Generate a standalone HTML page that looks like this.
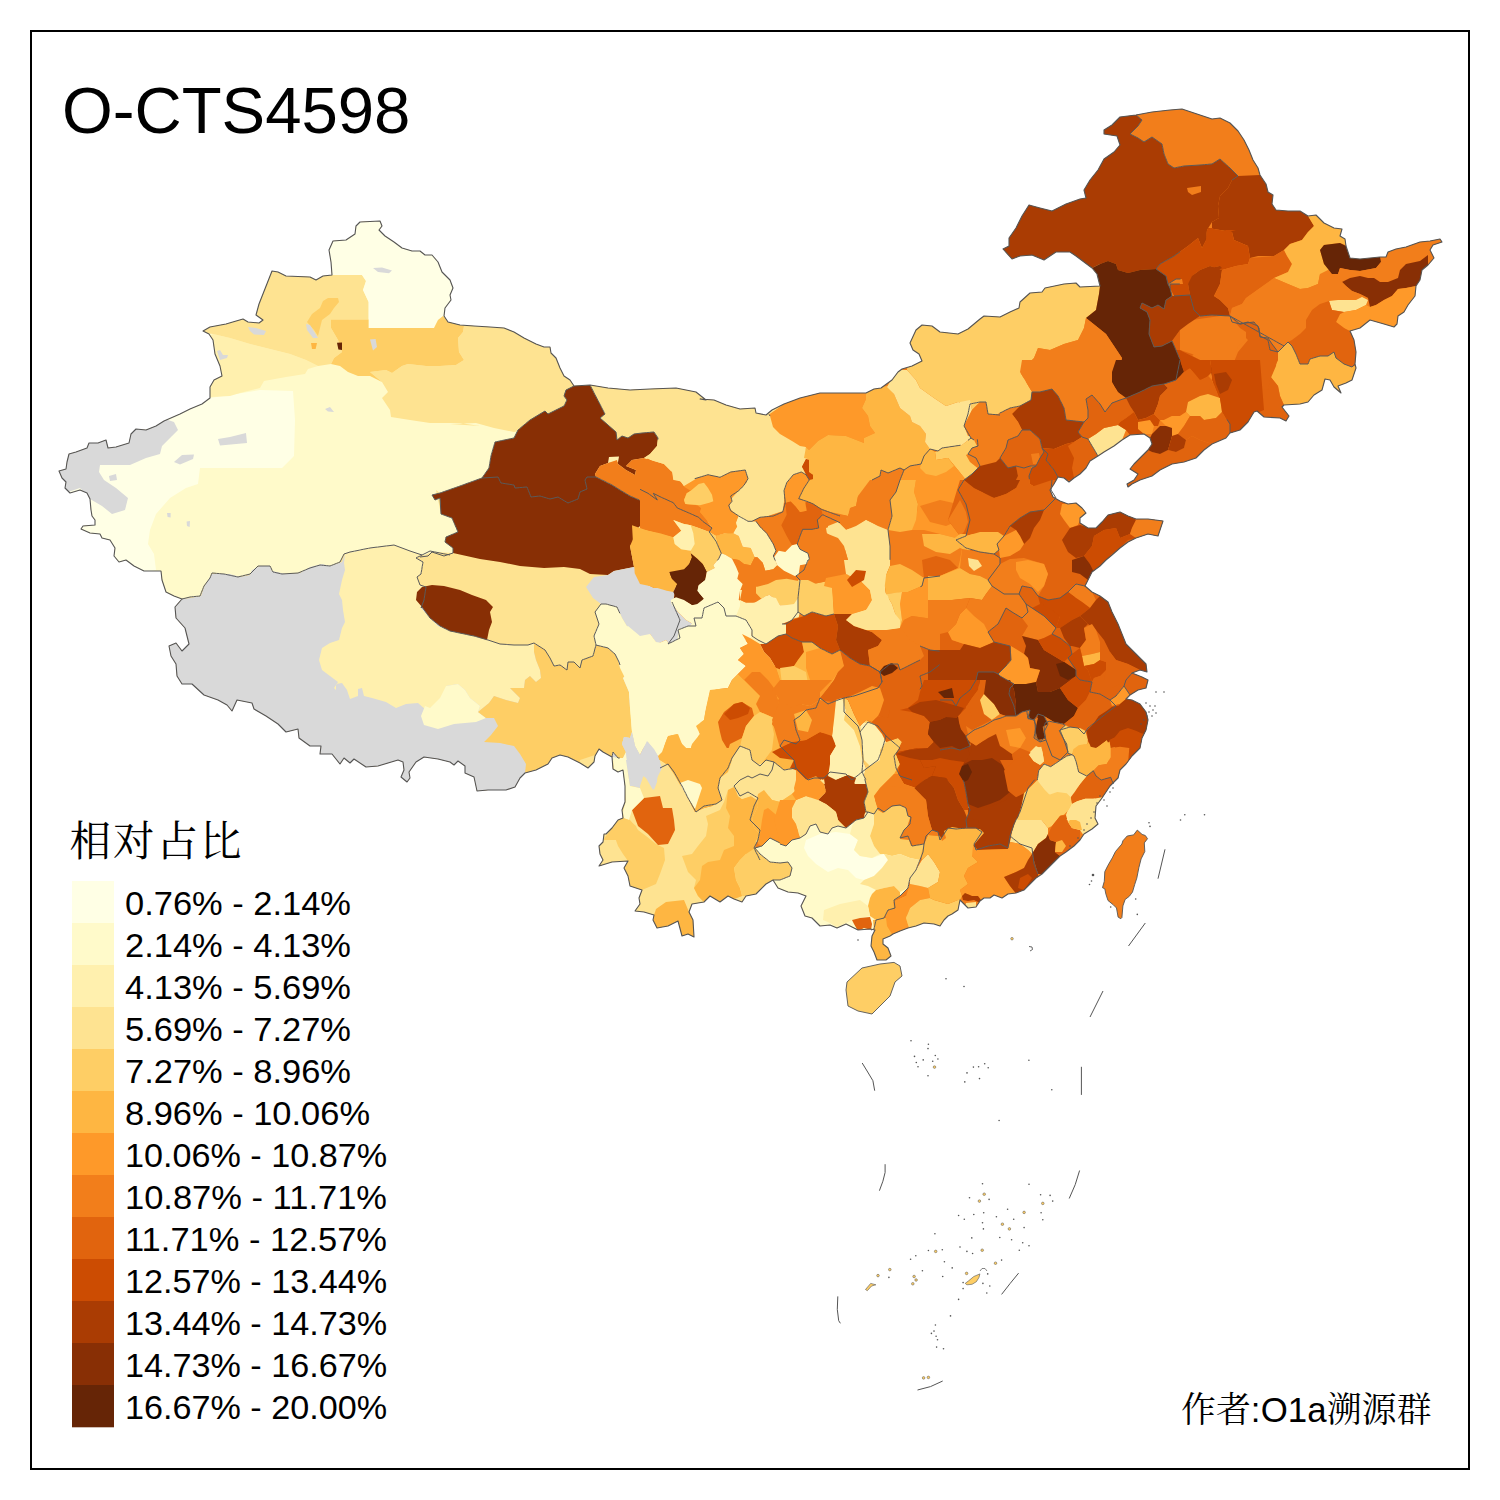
<!DOCTYPE html>
<html lang="zh"><head><meta charset="utf-8"><title>O-CTS4598</title>
<style>
html,body{margin:0;padding:0;background:#fff;}
body{width:1500px;height:1500px;overflow:hidden;position:relative;font-family:"Liberation Sans","Noto Sans CJK SC",sans-serif;}
svg{position:absolute;left:0;top:0;display:block;}
.t{font-family:"Liberation Sans",sans-serif;fill:#000;}
.s{font-family:"Liberation Serif","Noto Serif CJK SC",serif;fill:#000;}
</style></head><body>
<svg width="1500" height="1500" viewBox="0 0 1500 1500">
<rect x="0" y="0" width="1500" height="1500" fill="#fff"/>
<defs>
<clipPath id="cn"><polygon points="182,599 174,596 166,592 162,580 161,571 144,571 134,566 126,560 119,562 114,556 115,548 110,540 102,538 100,534 90,533 81,529 83,526 95,525 95,520 92,516 91,510 90,499 87,493 80,490 70,493 65,488 66,482 62,478 59,471 66,469 67,462 69,454 76,452 87,448 89,443 98,443 106,440 108,448 116,447 129,443 131,434 136,429 146,430 156,426 164,421 180,414 190,409 202,404 210,398 210,387 214,380 222,376 220,366 215,354 213,340 209,334 203,331 210,327 226,324 243,319 248,322 259,323 263,320 256,315 259,304 272,271 278,272 286,276 310,277 316,280 323,276 332,275 331,262 329,250 333,241 346,240 355,234 356,226 360,222 380,221 382,226 379,230 385,236 394,242 402,248 412,251 420,251 425,255 432,255 438,262 442,272 450,280 453,288 450,295 451,300 445,308 444,316 448,322 460,325 474,326 490,327 504,328 514,332 524,338 536,344 544,347 550,347 551,353 556,358 560,368 564,376 570,380 574,386 590,385 608,388 630,390 650,389 676,388 696,392 706,400 700,399 714,400 726,405 740,409 755,408 756,413 766,415 772,410 784,404 800,398 820,393 840,393 866,393 874,389 881,388 892,380 898,372 902,369 912,366 922,361 919,354 913,350 910,343 916,330 922,325 932,326 940,332 958,334 968,329 980,319 984,316 1000,317 1010,312 1019,308 1020,302 1030,293 1042,292 1045,288 1064,284 1076,283 1080,287 1100,286 1097,274 1092,268 1084,262 1076,256 1070,252 1056,252 1044,260 1032,255 1020,256 1012,259 1003,249 1009,246 1009,238 1016,228 1022,216 1029,205 1040,208 1052,211 1066,204 1080,199 1086,198 1084,190 1090,180 1098,170 1104,159 1114,152 1120,145 1117,136 1104,134 1104,130 1112,125 1120,117 1136,115 1152,112 1170,110 1182,109 1194,113 1212,119 1220,118 1230,123 1238,131 1244,140 1249,150 1253,160 1258,168 1260,175 1266,184 1268,192 1273,195 1272,204 1276,210 1288,211 1300,211 1308,216 1316,215 1324,223 1334,228 1342,229 1340,236 1345,239 1346,246 1350,258 1360,259 1370,258 1380,257 1386,257 1388,252 1396,249 1406,247 1420,242 1430,241 1440,239 1442,242 1433,245 1430,250 1434,258 1428,265 1422,270 1420,280 1416,286 1415,296 1408,305 1404,312 1398,316 1397,324 1394,327 1384,324 1370,320 1360,328 1350,331 1354,340 1356,352 1355,364 1356,368 1352,380 1346,383 1338,386 1341,393 1334,387 1330,380 1325,379 1322,390 1314,395 1308,402 1300,404 1284,405 1282,407 1289,416 1286,421 1280,418 1264,417 1257,411 1254,412 1248,422 1240,430 1230,433 1226,438 1212,444 1204,450 1196,458 1184,462 1172,464 1160,470 1152,476 1140,480 1132,484 1128,487 1127,484 1134,480 1138,474 1130,469 1134,464 1140,458 1148,450 1152,444 1150,438 1144,434 1130,435 1122,440 1114,446 1104,452 1098,456 1090,461 1086,468 1080,474 1074,478 1069,482 1064,478 1058,477 1054,484 1050,490 1053,497 1060,501 1068,504 1076,503 1082,508 1086,513 1080,518 1080,523 1088,528 1096,528 1102,522 1108,515 1120,512 1128,516 1136,519 1148,519 1163,521 1160,530 1158,536 1148,534 1136,538 1128,542 1120,548 1112,555 1106,560 1100,566 1092,572 1088,580 1085,586 1092,592 1100,596 1108,602 1112,612 1118,624 1122,634 1126,644 1136,654 1142,660 1146,664 1147,672 1140,670 1132,673 1142,677 1148,680 1146,688 1138,690 1130,695 1126,699 1132,700 1140,704 1146,712 1148,720 1146,730 1142,738 1140,748 1132,756 1126,764 1120,770 1118,778 1110,786 1106,792 1102,798 1096,806 1095,818 1098,824 1092,829 1084,834 1080,840 1074,846 1066,852 1060,856 1054,862 1048,868 1042,874 1036,878 1030,884 1024,890 1016,893 1008,894 1002,898 994,895 990,898 984,898 980,901 976,907 968,908 964,904 960,900 958,910 952,914 948,916 944,920 940,926 934,924 924,923 916,926 908,928 900,931 893,934 890,936 883,939 883,944 888,948 891,956 886,960 877,960 874,952 871,946 872,936 875,930 870,929 858,930 852,927 846,924 837,928 830,925 820,926 812,918 805,916 801,906 806,896 798,893 788,892 778,888 773,880 766,884 756,894 746,896 742,902 734,899 728,896 720,902 710,896 704,902 692,904 689,912 693,920 694,937 688,934 682,936 678,921 668,926 657,928 653,920 654,915 644,912 635,911 640,904 639,898 642,890 630,886 628,876 624,868 628,861 612,862 599,866 603,860 600,854 599,846 603,842 604,834 606,834 612,828 618,820 623,818 622,810 625,802 625,786 623,770 618,772 613,769 612,757 603,752 599,749 595,756 594,762 588,768 580,763 568,757 560,755 552,758 548,764 536,770 525,773 520,778 515,787 506,790 488,790 477,791 474,777 465,773 465,766 458,761 454,765 450,762 438,759 424,757 416,762 409,772 410,778 407,782 401,777 404,770 403,762 398,760 378,766 366,767 354,759 350,763 344,758 340,764 332,754 320,754 321,746 310,746 299,738 298,729 286,732 278,724 266,716 254,709 252,703 237,700 232,711 227,705 218,700 204,695 192,684 182,684 177,676 176,664 171,656 169,646 176,643 182,651 189,644 185,628 176,618 175,607"/></clipPath>
</defs>
<g clip-path="url(#cn)" stroke-linejoin="round">
<polygon points="0,0 1500,0 1500,1500 0,1500" fill="#F27E1B"/>
<polygon points="0,0 640,0 640,1500 0,1500" fill="#FEE391"/>
<polygon points="40,200 520,200 520,480 520,565 453,565 453,553 432,552 420,557 400,560 386,552 370,556 350,552 344,554 340,562 330,566 320,565 310,568 298,573 282,574 273,572 270,566 258,566 250,574 238,577 224,574 212,573 210,578 204,586 200,596 190,597 182,599 140,620 40,600" fill="#FFFACA"/>
<polygon points="190,409 210,398 230,395 260,390 293,391 295,420 294,456 282,468 200,468 198,484 186,488 170,498 156,514 150,530 148,544 154,554 156,570 130,576 70,550 50,490 110,430" fill="#FFFFE5"/>
<polygon points="174,422 178,430 172,436 162,446 160,454 146,458 130,465 100,465 99,472 104,480 116,488 128,498 125,510 112,514 102,506 90,499 80,488 62,494 50,470 70,440 130,426 162,418" fill="#D9D9D9"/>
<polygon points="213,334 230,338 250,344 270,349 290,354 306,360 318,366 331,364 318,366 308,369 305,374 286,377 264,381 260,388 240,393 230,396 211,397 202,400 206,376 202,340" fill="#FFF0AE"/>
<polygon points="198,332 213,334 230,338 250,344 270,349 290,354 306,360 318,366 331,364 334,358 342,352 338,340 331,328 331,319.4 368.6,319.4 368.6,302 363,290 366,281 362,275 332,275 310,268 270,266 250,312 202,324" fill="#FEE391"/>
<polygon points="332,275 362,275 366,281 363,290 368.6,302 368.6,328 434,328 438,320 444,316 458,300 458,240 370,212 326,236" fill="#FFFFE5"/>
<polygon points="464,326 463,332 458,338 459,352 464,360 456,365 440,366 426,366 408,364 402,366 392,373 386,370 370,372 382,382 388,392 382,398 390,410 391,417 410,420 430,423 460,423 480,426 450,424 476,423 494,428 514,432 532,428 560,412 580,388 584,380 560,340 480,320 450,320" fill="#FEE391"/>
<polygon points="331,319.4 368.6,319.4 368.6,328 434,328 438,320 443,316 448,322 464,326 463,332 458,338 459,352 464,360 456,365 440,366 426,366 408,364 402,366 392,373 386,370 370,372 382,382 370,376 358,376 348,372 340,366 331,364 334,358 342,352 338,340 331,328" fill="#FECE65"/>
<polygon points="328,298 338,298 339,302 334,308 330,314 322,320 320,328 318,336 314,330 307,322 312,314 320,308 323,301" fill="#FECE65"/>
<polygon points="311,343 317,343 315.6,349 312,349" fill="#FEB642"/>
<polygon points="337,342.8 342,342.4 342,350 338.4,349.6" fill="#662506"/>
<polygon points="306,324 310,325 318,338 313,338 307,330" fill="#D9D9D9"/>
<polygon points="373,268 382,267.6 392,270.4 389,273.2 378,272" fill="#D9D9D9"/>
<polygon points="248,327 256,328 266,331 264,335 254,334.4 250,331" fill="#D9D9D9"/>
<polygon points="217,351 220,350 223,355 228,355 227,358 220,360" fill="#D9D9D9"/>
<polygon points="370,339.4 375.6,339 377,347 373,350.4" fill="#D9D9D9"/>
<polygon points="218,439 230,437 246,433 247,443 220,445.6" fill="#D9D9D9"/>
<polygon points="325,409 330,407 334,412 328,411.6" fill="#D9D9D9"/>
<polygon points="174,462 182,455 194,454.4 193,459 180,464.4" fill="#D9D9D9"/>
<polygon points="109,476 116,474 117,480 110,481" fill="#D9D9D9"/>
<polygon points="167,513 170.6,513 170.6,517.6 167.6,517" fill="#D9D9D9"/>
<polygon points="186.6,521.6 190,521 189.6,527 187,526" fill="#D9D9D9"/>
<polygon points="182,599 190,598 201,596 204,587 212,574 230,574 240,577 250,575 252,570 260,566 270,566 272,571 286,574 300,573 310,567 322,564 330,566 342,562 345,554 370,548 394,545 410,551 422,555 450,560 630,640 630,820 150,820 150,600" fill="#D9D9D9"/>
<polygon points="344,563 345,554 370,548 394,545 410,551 422,555 416,558 423,562 421,574 417,577 420,585 426,587 424,600 421,608 430,618 438,626 450,631 450,631 474,636 488,640 500,644 514,645 528,645 534,643 534,652 536,660 540,670 541,678 536,682 530,676 525,680 524,688 510,688 520,698 518,703 506,700 494,696 489,703 478,712 480,706 470,698 465,690 458,684 446,686 450,686 444,692 442,700 434,706 426,710 418,703 406,704 396,708 386,702 372,698 364,696 362,688 358,689 358,696 350,699 347,690 342,683 336,684 336,690 334,688 338,682 330,676 322,670 319,660 322,648 330,643 339,640 342,628 345,622 343,610 342,600 339,594 342,580 345,570" fill="#FFF0AE"/>
<polygon points="446,686 458,684 465,690 470,698 480,706 478,712 486,718 476,722 454,724 438,729 424,725 421,716 425,706 430,708 440,698" fill="#FFFACA"/>
<polygon points="534,643 545,650 550,658 554,666 560,665 567,670 568,662 574,662 580,668 582,660 593,656 596,645 608,648 615,654 619,662 621,668 627,674 623,678 629,692 630,708 632,732 630,738 624,737 622,744 626,752 623,758 618,758 613,752 612,757 603,752 599,749 595,756 594,762 588,768 580,763 568,757 560,755 552,758 548,764 536,770 525,773 526,764 520,754 514,746 500,743 484,742 491,735 498,726 494,718 486,718 478,712 489,703 494,696 506,700 518,703 520,698 510,688 524,688 525,680 530,676 536,682 541,678 540,670 536,660 534,652" fill="#FECE65"/>
<polygon points="436,490 441,514 452,518 458,532 446,537 445,542 453,548 453,553 444,556 432,552 428,556 422,555 416,558 423,562 421,574 417,577 420,585 426,587 424,600 421,608 422,607 430,618 440,626 450,631 474,636 488,640 500,644 514,645 528,645 534,643 545,650 550,658 554,666 560,665 567,670 568,662 574,662 580,668 582,660 593,656 596,645 594,636 599,624 595,612 601,604 593,598 586,587 594,577 590,574 580,560 500,540" fill="#FEE391"/>
<polygon points="560,360 720,390 780,400 800,420 810,470 790,520 740,530 700,540 660,500 640,470 600,440 580,420" fill="#FEE391"/>
<polygon points="574,386 566,390 564,396 567,400 564,406 548,414 545,411 530,420 518,430 514,438 495,442 491,456 489,468 482,478 460,486 440,493 432,495 435,500 440,498 441,514 452,518 458,532 446,537 445,542 453,548 453,553 462,555 480,559 500,562 520,566 544,568 564,567 580,569 590,574 608,575 614,571 634,567 630,546 637,540 636,530 640,526 645,514 640,508 644,502 630,496 620,490 612,485 600,479 596,477 595,474 600,466 608,463 617,460 618,464 626,470 635,475 636,470 626,466 632,460 644,458 650,454 657,446 658,438 654,432 642,433 634,434 628,438 622,436 617,440 616,432 600,418 605,414 590,385" fill="#882F05"/>
<polygon points="422,587 432,585 444,586 460,590 472,595 486,600 493,607 490,612 492,622 489,630 487,640 474,636 450,631 440,626 430,618 422,607 416,600 417,592" fill="#882F05"/>
<polygon points="586,587 594,577 608,575 614,571 634,567 637,568 636,574 642,582 654,588 676,586 674,598 671,602 678,612 686,620 693,624 688,628 680,628 678,642 670,645 666,640 657,644 650,634 648,640 640,638 628,628 622,618 617,607 606,604 601,604 593,598" fill="#D9D9D9"/>
<polygon points="637,530 648,530 660,534 674,537 680,546 692,552 690,560 686,570 670,573 669,580 676,586 654,588 642,582 637,568 634,567 630,546" fill="#FEB642"/>
<polygon points="690,553 700,562 708,570 704,578 698,586 699,594 704,600 696,606 686,602 674,598 676,586 669,580 670,573 686,570 690,560" fill="#662506"/>
<polygon points="671,602 674,598 686,602 696,606 704,600 699,594 698,586 704,578 720,582 728,580 732,592 720,602 704,610 710,620 704,626 694,626 696,620 688,628 693,624 686,620 678,612" fill="#FFFACA"/>
<polygon points="609,457 619,456.6 618,462 608,463" fill="#FFF0AE"/>
<polygon points="596,477 595,474 600,466 608,463 617,460 618,464 626,470 635,475 636,470 626,466 632,460 644,458 664,464 672,472 673,480 681,482 686,489 688,494 684,502 700,508 704,520 710,530 680,520 682,534 674,537 660,534 648,530 640,526 645,514 640,508 644,502 630,496 620,490 612,485 600,479" fill="#F27E1B"/>
<polygon points="560,370 700,370 769,414.4 770,416 773,427 780,434 792,441 800,446 806,447 804,458 808,459 809,476 812,478 802,472 794,476 788,484 784,492 783,511 768,516 752,521 748,521 738,516 729,508 732,498 741,488 747,482 745,470 730,472 720,478 710,475 700,477 688,494 686,489 681,482 673,480 672,472 664,464 644,458 650,454 657,446 658,438 654,432 620,428 605,414 590,385 580,376" fill="#FEE391"/>
<polygon points="769,414.4 784,404 800,398 820,390 866,390 866,399 862,408 868,416 870,426 875,433 864,438 864,443 846,436 828,435 818,441 809,450 806,447 800,446 792,441 780,434 773,427 770,416" fill="#FE9929"/>
<polygon points="866,390 887,386 894,394 900,408 910,416 912,422 920,426 926,434 925,442 930,449 924,456 921,464 910,466 904,470 900,468 888,473 881,470 880,476 872,480 864,492 856,498 855,504 851,507 849,514 838,516 828,512 820,508 812,503 804,501 799,498 804,488 809,480 809,476 808,459 804,458 806,447 809,450 818,441 828,435 846,436 864,443 864,438 875,433 870,426 868,416 862,408 866,399" fill="#FEB642"/>
<polygon points="806,459 809,460 809,472 813,475 813,479 809,479 806,470 802,467" fill="#CC4C02"/>
<polygon points="887,387 892,378 898,370 907,370 916,380 920,388 934,398 946,406 958,402 970,404 968,414 964,426 971,438 962,445 942,448 938,451 930,449 925,442 926,434 920,426 912,422 910,416 900,408 894,394" fill="#FEE391"/>
<polygon points="907,370 908,362 900,310 1000,310 1020,370 1000,410 988,410 986,402 980,402 970,404 958,402 946,406 934,398 920,388 916,380" fill="#FECE65"/>
<polygon points="980,402 986,402 988,414 1000,415 1020,430 1020,462 988,465 980,470 970,462 966,455 978,448 974,440 971,438 964,426 968,414 970,404" fill="#F27E1B"/>
<polygon points="971,438 974,440 978,448 966,455 970,462 980,470 976,476 966,480 958,470 948,458 936,460 935,452 938,451 942,448 962,445" fill="#FECE65"/>
<polygon points="930,449 935,452 936,460 948,458 958,470 966,480 962,483 958,494 962,506 968,518 964,530 956,540 960,550 888,550 887,532 892,522 893,510 889,502 895,494 900,480 904,470 910,466 921,464 924,456" fill="#FE9929"/>
<polygon points="921,464 924,456 930,449 935,452 936,460 948,458 954,466 946,472 936,476 926,474 920,468" fill="#FEB642"/>
<polygon points="912,504 920,498 936,496 946,500 958,494 962,506 960,516 948,520 936,518 924,516 916,512" fill="#F27E1B"/>
<polygon points="892,522 900,508 910,504 916,512 924,516 928,526 920,534 908,538 888,538 887,532" fill="#FEB642"/>
<polygon points="904,470 900,480 895,494 889,502 893,510 892,522 887,532 888,550 838,550 828,540 818,532 817,524 820,514 828,512 838,516 849,514 851,507 855,504 856,498 864,492 872,480 880,476 881,470 888,473 900,468" fill="#F27E1B"/>
<polygon points="826,528 840,523 852,530 866,520 874,524 882,530 887,534 888,550 838,550 828,540" fill="#FEE391"/>
<polygon points="794,476 802,472 809,479 804,488 799,498 804,501 806,514 798,516 794,508 784,502 784,492 788,484" fill="#FE9929"/>
<polygon points="784,502 794,508 798,516 806,514 804,501 812,503 820,508 824,512 818,516 816,528 802,530 798,540 794,542 786,534 780,526 786,516 783,511" fill="#E1640E"/>
<polygon points="783,511 786,516 780,526 786,534 794,542 798,550 776,550 768,536 758,528 756,523 752,521 768,516" fill="#F27E1B"/>
<polygon points="700,477 710,475 720,478 730,472 745,470 747,482 741,488 732,498 729,508 738,516 736,526 733,534 720,530 712,524 700,518 688,506 680,496 684,486 694,480" fill="#FE9929"/>
<polygon points="800,498 810,480 870,480 858,496 856,506 850,508 848,516 840,514 830,512 820,508 810,502" fill="#FEB642"/>
<polygon points="870,480 900,480 896,492 890,500 892,516 888,530 878,526 866,520 856,526 846,530 838,522 828,526 820,518 820,508 830,512 840,514 848,516 850,508 856,506 858,496" fill="#F27E1B"/>
<polygon points="828,526 838,522 846,530 856,526 866,520 878,526 888,530 890,546 890,566 884,580 886,594 892,604 896,616 900,628 884,630 868,628 858,624 848,622 854,614 870,608 872,600 864,592 854,594 844,584 848,574 848,560 844,546 838,538 828,534" fill="#FEE391"/>
<polygon points="802,530 818,528 828,534 838,538 844,546 848,560 848,574 844,584 828,576 826,584 812,584 800,582 798,574 800,564 809,560 808,554 800,550 796,546 798,540" fill="#F27E1B"/>
<polygon points="847,580 856,570 866,571 864,580 852,587" fill="#CC4C02"/>
<polygon points="890,500 896,492 900,480 916,480 914,492 918,504 916,520 912,530 900,532 888,530 892,516" fill="#FEB642"/>
<polygon points="916,480 960,480 958,494 966,504 968,520 962,532 956,538 940,534 924,530 912,530 916,520 918,504 914,492" fill="#FE9929"/>
<polygon points="920,506 940,500 958,504 960,520 946,526 930,522" fill="#F27E1B"/>
<polygon points="888,530 900,532 912,530 924,530 940,534 956,538 962,548 960,560 958,568 940,576 924,578 922,586 908,592 886,594 884,580 890,566 890,546" fill="#F27E1B"/>
<polygon points="922,534 940,534 956,538 960,548 950,554 936,552 924,546" fill="#FEB642"/>
<polygon points="922,560 936,556 950,560 958,568 940,576 924,578" fill="#E1640E"/>
<polygon points="884,580 890,566 900,564 912,570 924,578 922,586 908,592 886,594" fill="#FEB642"/>
<polygon points="962,532 980,530 1000,536 1012,540 1012,576 988,580 980,576 968,574 958,568 960,560 962,548 956,538" fill="#FE9929"/>
<polygon points="956,538 962,532 980,530 1000,536 1000,548 980,550 962,548" fill="#FECE65"/>
<polygon points="968,558 976,556 980,564 972,568" fill="#FEE391"/>
<polygon points="902,592 908,592 922,586 924,578 940,576 958,568 968,574 980,576 988,580 1000,576 1000,620 996,632 988,630 980,640 962,646 958,632 950,624 940,620 926,618 912,616 904,620 900,628 902,620 900,604" fill="#FE9929"/>
<polygon points="886,594 902,592 900,604 902,620 900,628 896,616 892,604" fill="#FECE65"/>
<polygon points="900,628 904,620 912,616 926,618 940,620 950,624 958,632 962,646 958,650 946,652 930,650 920,646 910,640 904,632" fill="#F27E1B"/>
<polygon points="920,646 930,650 946,652 944,660 938,666 930,672 920,676 912,672 904,660 912,654" fill="#E1640E"/>
<polygon points="946,652 958,650 962,646 980,640 988,630 1000,632 1000,716 992,720 980,716 970,692 980,684 976,672 964,664 960,654" fill="#AA3C03"/>
<polygon points="978,672 1000,668 1000,700 988,696 980,684" fill="#882F05"/>
<polygon points="912,704 920,708 930,706 944,706 956,710 968,706 956,716 946,722 936,716 928,716 930,726 934,736 928,744 912,750 902,746 900,738 890,738 880,730 874,718 886,716 890,710 900,708" fill="#CC4C02"/>
<polygon points="920,676 930,672 938,666 944,660 946,652 960,654 964,664 976,672 980,684 970,692 968,706 956,710 944,706 930,706 920,708 912,704 916,696 922,686" fill="#AA3C03"/>
<polygon points="938,692 946,690 954,688 954,698 944,698" fill="#662506"/>
<polygon points="928,716 936,716 946,722 956,716 960,724 962,736 970,744 966,748 952,748 940,746 936,738 930,726" fill="#882F05"/>
<polygon points="1000,317 1000,240 1100,240 1100,286 1099,294 1096,310 1086,318 1084,328 1078,340 1064,344 1050,350 1038,348 1034,358 1026,366 1020,374 1026,380 1028,394 1032,400 1000,400 940,400 940,300" fill="#FECE65"/>
<polygon points="1000,200 1100,120 1140,110 1142,120 1138,126 1130,134 1138,138 1144,142 1152,137 1162,144 1164,154 1168,164 1174,168 1184,166 1200,165 1212,164 1220,159 1230,168 1238,176 1232,180 1228,188 1220,196 1218,206 1219,218 1212,222 1207,230 1206,240 1202,248 1198,238 1188,246 1174,256 1160,264 1156,269 1140,270 1128,273 1118,270 1116,264 1108,261 1100,264 1092,268 1060,264 1000,264" fill="#AA3C03"/>
<polygon points="1136,115 1140,100 1260,100 1260,175 1238,176 1230,168 1220,159 1212,164 1200,165 1184,166 1174,168 1168,164 1164,154 1162,144 1152,137 1144,142 1138,138 1130,134 1138,126 1142,120" fill="#F27E1B"/>
<polygon points="1187,188 1201,186 1201,192 1192,195 1188,192" fill="#F27E1B"/>
<polygon points="1238,176 1260,175 1266,184 1266,180 1268,192 1273,195 1272,204 1276,210 1288,211 1300,211 1308,216 1314,226 1308,232 1302,240 1290,244 1284,250 1274,256 1258,256 1250,258 1248,246 1234,240 1232,232 1220,230 1208,228 1206,238 1202,248 1212,228 1212,222 1219,218 1218,206 1220,196 1228,188 1232,180" fill="#AA3C03"/>
<polygon points="1156,269 1160,264 1174,256 1188,246 1198,238 1202,248 1206,240 1207,230 1212,228 1219,234 1226,230 1236,230 1206,238 1208,228 1220,230 1232,232 1234,240 1248,246 1250,258 1248,264 1236,266 1222,270 1210,266 1200,270 1192,276 1188,284 1220,266 1202,270 1192,276 1188,284 1190,295 1174,296 1170,288 1170,284 1183,284 1182,279 1176,279 1168,284 1166,276" fill="#CC4C02"/>
<polygon points="1188,284 1192,276 1202,270 1220,266 1222,268 1188,284 1192,276 1200,270 1210,266 1222,270 1220,284 1214,296 1220,300 1228,308 1230,316 1220,316 1206,318 1196,314 1190,300 1212,315 1200,316 1194,310 1190,295" fill="#AA3C03"/>
<polygon points="1222,270 1236,266 1248,264 1250,258 1274,256 1284,250 1292,264 1288,272 1274,278 1260,288 1246,298 1242,304 1232,308 1230,316 1228,308 1220,300 1214,296 1220,284" fill="#E1640E"/>
<polygon points="1308,216 1316,215 1324,223 1334,228 1342,229 1346,236 1348,246 1340,243 1324,245 1320,250 1324,264 1332,268 1320,274 1318,284 1308,288 1300,289 1288,284 1274,278 1288,272 1292,264 1287,256 1284,250 1290,244 1302,240 1308,232 1314,226" fill="#FEB642"/>
<polygon points="1320,250 1324,245 1340,243 1346,246 1350,258 1360,259 1370,258 1380,257 1381,262 1376,268 1360,271 1350,270 1340,268 1338,274 1332,274 1324,264" fill="#662506"/>
<polygon points="1381,262 1386,257 1388,248 1396,245 1406,243 1420,238 1444,236 1444,244 1436,258 1428,265 1428,255 1420,261 1406,264 1400,270 1398,278 1388,282 1380,282 1374,278 1368,278 1360,276 1350,278 1342,282 1332,274 1338,274 1340,268 1350,270 1360,271 1376,268" fill="#F27E1B"/>
<polygon points="1342,282 1350,278 1360,276 1368,278 1374,278 1380,282 1388,282 1398,278 1400,270 1406,264 1420,261 1428,255 1428,265 1422,270 1420,280 1416,286 1406,288 1398,289 1392,296 1384,300 1376,305 1370,307 1368,298 1360,294 1352,291 1346,286" fill="#882F05"/>
<polygon points="1230,316 1232,308 1242,304 1246,298 1260,288 1274,278 1288,284 1300,289 1308,288 1318,284 1320,274 1332,274 1342,282 1346,286 1352,291 1360,294 1368,298 1362,297 1356,300 1338,300 1329,301 1320,304 1312,310 1306,320 1306,328 1300,334 1292,340 1288,342 1284,346 1278,352 1272,344 1268,338 1260,337 1259,328 1254,322 1246,323 1240,324" fill="#F27E1B"/>
<polygon points="1329,301 1338,300 1356,300 1362,297 1368,300 1366,305 1356,310 1344,312 1332,310" fill="#FEE391"/>
<polygon points="1336,322 1340,314 1344,312 1356,310 1366,305 1370,307 1376,305 1384,300 1392,296 1398,289 1406,288 1416,286 1420,292 1412,308 1404,316 1400,328 1384,328 1370,324 1360,332 1350,334 1344,328" fill="#FE9929"/>
<polygon points="1288,342 1292,340 1300,334 1306,328 1306,320 1312,310 1320,304 1329,301 1332,310 1344,312 1340,314 1336,322 1344,328 1350,331 1360,340 1360,364 1352,367 1344,364 1336,358 1334,352 1328,356 1320,356 1310,359 1308,364 1300,364 1296,354 1292,346" fill="#E1640E"/>
<polygon points="1278,352 1284,346 1288,342 1292,346 1296,354 1300,364 1308,364 1310,359 1320,356 1328,356 1334,352 1336,358 1344,364 1352,367 1360,364 1360,400 1300,410 1284,405 1280,396 1278,386 1270,376 1274,368 1278,360" fill="#FEB642"/>
<polygon points="1230,316 1240,324 1246,323 1254,322 1259,328 1260,337 1268,338 1272,344 1278,352 1278,360 1274,368 1270,376 1278,386 1280,396 1284,405 1282,407 1292,418 1286,424 1264,420 1257,414 1250,418 1240,430 1230,434 1222,406 1216,390 1212,378 1220,366 1234,360 1238,346 1246,340 1246,332 1240,328" fill="#E1640E"/>
<polygon points="1212,378 1220,370 1230,372 1234,380 1248,388 1250,400 1246,410 1250,418 1240,430 1230,434 1226,420 1222,406 1216,390" fill="#CC4C02"/>
<polygon points="1216,378 1226,374 1230,382 1226,390 1218,388" fill="#AA3C03"/>
<polygon points="1212,315 1230,316 1232,322 1240,324 1248,322 1258,326 1260,336 1268,340 1270,350 1278,352 1276,366 1270,380 1268,390 1250,388 1240,392 1232,380 1226,370 1220,362 1210,368 1200,360 1192,356 1180,350 1176,350 1172,341 1180,330 1188,324 1200,316" fill="#E1640E"/>
<polygon points="1204,346 1208,336 1220,330 1236,328 1248,340 1238,352 1234,362 1220,362 1210,368 1200,360 1192,356" fill="#F27E1B"/>
<polygon points="1180,324 1192,320 1206,318 1220,316 1230,316 1240,328 1246,332 1246,340 1238,346 1234,360 1220,366 1210,364 1200,358 1192,354 1180,350" fill="#F27E1B"/>
<polygon points="1092,268 1100,264 1108,261 1116,264 1118,270 1128,273 1140,270 1156,269 1166,276 1168,284 1170,288 1172,296 1166,300 1164,309 1158,305 1152,308 1142,303 1140,308 1147,312 1150,320 1149,334 1154,347 1162,346 1172,341 1176,350 1181,362 1178,366 1184,370 1180,378 1170,384 1156,384 1144,390 1128,396 1120,394 1114,386 1111,376 1120,366 1122,358 1114,346 1106,334 1096,326 1086,318 1096,310 1099,294 1100,286 1097,274" fill="#662506"/>
<polygon points="1140,308 1142,303 1152,308 1158,305 1164,309 1166,300 1172,296 1174,296 1190,295 1194,310 1200,316 1188,324 1180,330 1172,341 1162,346 1154,347 1149,334 1150,320 1147,312" fill="#AA3C03"/>
<polygon points="1181,362 1176,350 1180,350 1192,356 1200,360 1210,368 1208,376 1202,382 1200,376 1188,368 1184,370 1178,366" fill="#CC4C02"/>
<polygon points="1210,368 1220,362 1226,370 1232,380 1228,388 1220,390 1214,384" fill="#AA3C03"/>
<polygon points="1086,318 1096,326 1106,334 1114,346 1122,358 1120,366 1111,376 1114,386 1120,394 1128,396 1144,390 1156,384 1170,384 1180,378 1176,384 1180,400 1180,420 1032,420 1032,400 1028,394 1026,380 1020,374 1026,366 1034,358 1038,348 1050,350 1064,344 1078,340 1084,328" fill="#F27E1B"/>
<polygon points="1180,378 1184,370 1188,368 1200,376 1202,382 1208,376 1214,384 1220,400 1220,412 1180,412 1176,384" fill="#E1640E"/>
<polygon points="960,360 1022,360 1020,372 1026,382 1032,392 1031,400 1020,406 1010,408 998,414 988,414 986,402 980,402 972,410 970,400 960,402" fill="#FECE65"/>
<polygon points="960,402 970,400 972,410 968,418 964,426 970,436 960,444" fill="#FEE391"/>
<polygon points="1022,360 1116,360 1112,372 1112,382 1118,392 1126,398 1120,400 1112,403 1105,412 1100,404 1092,395 1086,399 1088,410 1088,418 1084,422 1066,420 1064,408 1058,396 1052,389 1040,392 1032,392 1026,382 1020,372" fill="#F27E1B"/>
<polygon points="1116,360 1180,360 1184,372 1176,380 1164,384 1152,386 1140,392 1126,398 1118,392 1112,382 1112,372" fill="#662506"/>
<polygon points="1032,392 1040,392 1052,389 1058,396 1064,408 1066,420 1084,422 1078,432 1082,437 1074,442 1066,444 1054,449 1042,448 1040,439 1030,430 1022,430 1018,422 1012,414 1020,406 1031,400" fill="#AA3C03"/>
<polygon points="964,426 968,418 972,410 980,402 986,402 988,414 998,414 1010,408 1012,414 1018,422 1022,430 1018,436 1008,440 1006,448 1000,458 996,462 988,464 980,466 976,458 968,454 972,448 978,446 977,436 968,436" fill="#F27E1B"/>
<polygon points="1008,440 1018,436 1022,430 1030,430 1040,439 1042,448 1044,452 1040,458 1036,466 1030,466 1024,468 1016,466 1008,468 1000,458 1006,448" fill="#E1640E"/>
<polygon points="1031,454 1039,453 1040,458 1038,464 1033,464" fill="#F27E1B"/>
<polygon points="1042,448 1048,454 1046,460 1054,470 1058,477 1054,484 1050,490 1040,490 1030,484 1029,476 1032,468 1036,466 1040,458 1044,452" fill="#CC4C02"/>
<polygon points="1042,448 1054,449 1066,444 1074,442 1080,446 1078,456 1084,464 1086,468 1080,474 1074,478 1069,482 1064,478 1058,477 1054,470 1046,460 1048,454" fill="#CC4C02"/>
<polygon points="1068,446 1074,442 1082,437 1088,439 1098,456 1090,461 1086,468 1080,474 1074,478 1072,468 1074,458" fill="#E1640E"/>
<polygon points="1088,439 1096,434 1104,428 1118,425 1126,430 1122,440 1114,446 1104,452 1098,456" fill="#FEE391"/>
<polygon points="1078,432 1084,422 1088,418 1088,410 1086,399 1092,395 1100,404 1105,412 1112,403 1120,400 1126,398 1130,406 1134,412 1126,418 1120,422 1118,425 1104,428 1096,434 1088,439 1082,437" fill="#E1640E"/>
<polygon points="1126,398 1140,392 1152,386 1164,384 1168,388 1160,396 1158,404 1154,414 1146,418 1138,420 1134,412 1130,406" fill="#AA3C03"/>
<polygon points="1120,422 1126,418 1134,412 1138,420 1146,418 1154,414 1160,420 1158,426 1152,426 1144,434 1130,435 1126,430 1118,425" fill="#CC4C02"/>
<polygon points="1138,422 1150,420 1154,426 1152,434 1144,434 1138,429" fill="#FE9929"/>
<polygon points="1164,384 1176,380 1184,372 1190,368 1200,380 1208,376 1212,380 1208,394 1200,396 1188,402 1186,412 1180,416 1172,416 1164,420 1160,420 1154,414 1158,404 1160,396 1168,388" fill="#E1640E"/>
<polygon points="1180,360 1210,360 1212,372 1208,376 1200,380 1190,368 1184,372" fill="#CC4C02"/>
<polygon points="1186,412 1188,402 1200,396 1208,394 1220,398 1222,412 1216,418 1204,420 1200,416 1190,416" fill="#FEB642"/>
<polygon points="1160,420 1164,420 1172,416 1180,416 1186,412 1190,416 1184,426 1178,434 1172,436 1172,428 1166,426" fill="#FE9929"/>
<polygon points="1148,450 1152,452 1160,454 1168,450 1176,452 1184,448 1186,440 1192,436 1200,440 1212,444 1204,452 1196,460 1184,464 1172,466 1160,472 1152,478 1140,482 1128,489 1124,484 1134,480 1136,474 1128,469 1134,464 1140,458" fill="#E1640E"/>
<polygon points="1178,434 1184,426 1190,416 1200,416 1204,420 1216,418 1222,412 1230,424 1230,433 1226,438 1212,444 1200,440 1192,436 1186,440" fill="#E1640E"/>
<polygon points="1150,438 1152,434 1160,426 1166,426 1172,428 1172,436 1168,450 1160,454 1152,452 1148,450 1152,444" fill="#882F05"/>
<polygon points="1172,436 1178,434 1186,440 1184,448 1176,452 1168,450" fill="#AA3C03"/>
<polygon points="1210,360 1260,360 1264,410 1254,414 1248,422 1240,430 1230,433 1230,424 1222,412 1220,398 1212,380 1212,372" fill="#CC4C02"/>
<polygon points="1214,374 1226,372 1232,380 1228,390 1220,394 1216,384" fill="#AA3C03"/>
<polygon points="960,480 964,480 972,488 982,492 990,498 1000,496 1010,490 1014,484 1018,476 1016,466 1024,468 1030,466 1032,468 1029,476 1030,484 1040,490 1050,490 1053,497 1060,501 1054,504 1048,508 1040,512 1030,514 1020,518 1012,524 1008,532 1000,534 980,534 966,536 960,536 948,520" fill="#E1640E"/>
<polygon points="964,480 972,474 980,466 988,464 996,462 1000,458 1008,468 1016,466 1018,476 1014,484 1010,490 1000,496 990,498 982,492 972,488" fill="#AA3C03"/>
<polygon points="960,500 966,512 968,522 964,532 960,536 948,520" fill="#F27E1B"/>
<polygon points="1008,532 1040,512 1060,501 1080,523 1100,552 1096,560 1088,580 1085,586 1092,592 1088,598 1080,606 1072,612 1064,616 1058,618 1020,593 986,580 992,572 1000,566 1010,558 1000,556 996,548 998,540" fill="#E1640E"/>
<polygon points="1008,532 1012,524 1020,518 1030,514 1040,512 1048,508 1046,516 1040,520 1036,528 1034,536 1028,540 1022,544 1020,538 1014,534" fill="#AA3C03"/>
<polygon points="1040,512 1048,508 1054,504 1060,501 1062,508 1060,518 1062,528 1070,532 1066,538 1062,544 1066,552 1060,562 1054,556 1048,550 1040,552 1034,548 1028,540 1034,536 1036,528 1040,520 1046,516" fill="#CC4C02"/>
<polygon points="1060,501 1068,504 1076,503 1082,508 1086,513 1080,518 1080,523 1072,526 1070,532 1062,528 1060,518 1062,508" fill="#FE9929"/>
<polygon points="1062,538 1070,532 1072,526 1080,523 1088,528 1092,532 1092,540 1098,548 1100,552 1096,560 1088,560 1080,556 1074,558 1066,552 1062,544" fill="#AA3C03"/>
<polygon points="1088,528 1096,528 1102,522 1108,515 1120,512 1128,516 1136,519 1142,522 1134,528 1130,532 1134,536 1128,542 1120,548 1112,555 1106,560 1100,566 1096,560 1100,552 1098,548 1092,540 1092,532" fill="#CC4C02"/>
<polygon points="1108,515 1120,512 1128,516 1136,519 1142,522 1134,528 1130,532 1120,530 1114,526 1108,528 1100,528 1102,522" fill="#AA3C03"/>
<polygon points="1130,532 1134,528 1142,522 1148,519 1164,520 1162,530 1158,537 1148,535 1136,539 1134,536" fill="#F27E1B"/>
<polygon points="1072,568 1076,558 1080,556 1088,560 1096,560 1100,566 1092,572 1088,580 1082,578" fill="#882F05"/>
<polygon points="960,534 980,534 1000,534 998,540 996,548 1000,556 990,558 976,554 960,548 952,540" fill="#FEB642"/>
<polygon points="998,540 1008,532 1014,534 1020,538 1022,544 1020,552 1010,558 1000,556 996,548" fill="#FE9929"/>
<polygon points="1010,558 1020,552 1030,560 1040,564 1048,570 1048,580 1040,586 1042,592 1036,594 1030,588 1022,586 1016,578 1012,568" fill="#FE9929"/>
<polygon points="986,580 992,572 1000,566 1010,558 1012,568 1016,578 1022,586 1020,593 1002,594 998,588" fill="#F27E1B"/>
<polygon points="1022,586 1030,588 1036,594 1042,600 1050,604 1058,618 1052,610 1044,606 1036,604 1030,598 1026,594 1020,593" fill="#CC4C02"/>
<polygon points="1068,596 1076,584 1085,586 1092,592 1088,598 1080,606 1072,602" fill="#F27E1B"/>
<polygon points="640,460 648,458.7 660,465.3 672,472 673.3,480 680,481.3 684,486.7 690.7,490.7 686.7,493.3 684,500 685.3,504 697.3,505.3 701.3,508 700,512 706.7,520 712,528 709.3,532 698.7,528 690.7,525.3 684,524 674.7,520 681.3,530.7 673.3,537.3 660,533.3 648,530.7 640,528" fill="#F27E1B"/>
<polygon points="694.7,478.7 708,474.7 720,477.3 730.7,472 745.3,470 748,478.7 744,485.3 738.7,490.7 730.7,496 732,501.3 728.7,505.3 730.7,510.7 738.7,516 736,522.7 737.3,526.7 733.3,533.3 725.3,533.3 716,536 709.3,532 712,528 706.7,520 700,512 701.3,508 697.3,505.3 685.3,504 684,500 686.7,493.3 690.7,490.7 698.7,484" fill="#FE9929"/>
<polygon points="684,500 686.7,493.3 690.7,490.7 698.7,484 704,482.7 708,488 712,494.7 713.3,501.3 709.3,502.7 700,505.3 685.3,504" fill="#FECE65"/>
<polygon points="632,525.3 640,528 648,530.7 660,533.3 673.3,537.3 674.7,544 681.3,549.3 690.7,550.7 692,557.3 689.3,564 684,569.3 669.3,572 672,578.7 677.3,584 673.3,592 666.7,590.7 653.3,586.7 640,584 634.7,573.3" fill="#FEB642"/>
<polygon points="673.3,520 684,524 690.7,525.3 698.7,528 709.3,532 716,536 718.7,546.7 721.3,553.3 718.7,558.7 713.3,565.3 714.7,568 706.7,572 702.7,564 697.3,558.7 690.7,553.3 690.7,550.7 681.3,549.3 674.7,544 673.3,537.3 681.3,530.7" fill="#FECE65"/>
<polygon points="673.3,520 684,524 690.7,525.3 693.3,533.3 694.7,544 690.7,550.7 681.3,549.3 674.7,544 673.3,537.3 681.3,530.7" fill="#FFF0AE"/>
<polygon points="690.7,553.3 697.3,558.7 702.7,564 706.7,572 705.3,580 698.7,585.3 697.3,590.7 704,598.7 697.3,604 692,605.3 684,600 676,597.3 673.3,592 677.3,584 672,578.7 669.3,572 684,569.3 689.3,564 692,557.3" fill="#662506"/>
<polygon points="716,536 725.3,533.3 733.3,533.3 738.7,536 742.7,546.7 750.7,548 754.7,557.3 750.7,565.3 744,564 738.7,560 732,558.7 725.3,554.7 721.3,553.3 718.7,546.7" fill="#FEB642"/>
<polygon points="733.3,533.3 737.3,526.7 736,522.7 738.7,516 748,521.3 756,521.3 760,526.7 766.7,533.3 773.3,544 776,550.7 773.3,556 777.3,565.3 773.3,569.3 765.3,570.7 762.7,562.7 757.3,557.3 754.7,557.3 750.7,548 742.7,546.7 738.7,536" fill="#FFF0AE"/>
<polygon points="732,558.7 738.7,560 744,564 750.7,565.3 754.7,557.3 757.3,557.3 762.7,562.7 765.3,570.7 773.3,569.3 777.3,565.3 784,570.7 794.7,576 800,581.3 793.3,580 786.7,578.7 776,580 768,584 757.3,586.7 756,593.3 761.3,598.7 754.7,602.7 745.3,602.7 738.7,600 740,590.7 742.7,584 737.3,578.7 738.7,573.3 736,566.7" fill="#F27E1B"/>
<polygon points="706.7,572 714.7,568 713.3,565.3 718.7,558.7 721.3,553.3 725.3,554.7 732,558.7 736,566.7 738.7,573.3 737.3,578.7 742.7,584 740,590.7 738.7,600 745.3,602.7 754.7,610.7 757.3,618.7 758.7,626.7 752,626.7 750.7,640 677.3,640 678.7,629.3 690.7,626.7 693.3,620 684,617.3 678.7,610.7 672,605.3 670.7,600 676,597.3 684,600 692,605.3 697.3,604 704,598.7 697.3,590.7 698.7,585.3 705.3,580" fill="#FFFACA"/>
<polygon points="756,586.7 757.3,586.7 768,584 776,580 786.7,578.7 793.3,580 800,581.3 798.7,590.7 801.3,597.3 798.7,604 790.7,605.3 780,605.3 774.7,598.7 769.3,594.7 761.3,598.7 756,593.3" fill="#FECE65"/>
<polygon points="745.3,602.7 754.7,602.7 761.3,598.7 769.3,594.7 774.7,598.7 780,605.3 790.7,605.3 798.7,604 800,612 798.7,617.3 786.7,620 781.3,625.3 785.3,630.7 786.7,640 789.3,653.3 773.3,666.7 750.7,660 750.7,640 752,626.7 758.7,626.7 757.3,618.7 754.7,610.7" fill="#FFF0AE"/>
<polygon points="800,581.3 813.3,584 826.7,581.3 832,586.7 833.3,600 830.7,609.3 826.7,613.3 813.3,613.3 806.7,612 800,612 798.7,604 801.3,597.3 798.7,590.7" fill="#FECE65"/>
<polygon points="752,521.3 760,517.3 773.3,516 782.7,512 785.3,502.7 790.7,501.3 796,506.7 800,512 806.7,510.7 805.3,502.7 813.3,504 821.3,509.3 822.7,514.7 817.3,520 818.7,528 812,529.3 802.7,529.3 800,536 797.3,544 792,545.3 785.3,552 778.7,550.7 776,550.7 773.3,544 766.7,533.3 760,526.7 756,521.3" fill="#F27E1B"/>
<polygon points="781.3,525.3 786.7,514.7 785.3,502.7 790.7,501.3 796,506.7 800,512 806.7,510.7 805.3,502.7 813.3,504 821.3,509.3 822.7,514.7 817.3,520 818.7,528 812,529.3 802.7,529.3 800,536 797.3,544 792,545.3 786.7,536" fill="#E1640E"/>
<polygon points="785.3,502.7 784,490.7 786.7,482.7 793.3,474.7 801.3,472 806,474.7 809.3,480 804,488 798.7,498.7 806.7,501.3 805.3,502.7 806.7,510.7 800,512 796,506.7 790.7,501.3" fill="#FE9929"/>
<polygon points="802,466.7 806,459.3 808.7,460 808.7,473.3 812.7,474.7 812.7,479.3 809.3,480 806,474.7" fill="#CC4C02"/>
<polygon points="800,536 802.7,529.3 812,529.3 818.7,528 826.7,533.3 840,542.7 842.7,560 840,574.7 826.7,576 829.3,582.7 826.7,581.3 813.3,584 800,581.3 794.7,576 798.7,574.7 800,565.3 806.7,564 809.3,558.7 808,553.3 800,549.3 797.3,544" fill="#F27E1B"/>
<polygon points="774,557.3 778.7,550.7 785.3,552 792,545.3 797.3,544 800,549.3 808,553.3 809.3,558.7 806.7,564 800,565.3 798.7,574.7 794.7,576 784,570.7 777.3,565.3 773.3,556" fill="#FFFACA"/>
<polygon points="596,645 594,636 599,624 595,612 601,604 606,604 617,607 622,618 628,628 640,638 648,640 650,634 657,644 666,640 670,645 678,642 680,628 688,628 696,620 694,626 704,626 710,620 704,610 720,602 720,688 710,692 706,710 700,724 698,738 688,750 680,742 676,733 666,738 662,758 658,756 654,749 647,741 640,755 635,746 632,732 630,708 629,692 623,678 627,674 621,668 619,662 615,654 608,648" fill="#FFFACA"/>
<polygon points="720,688 710,692 706,710 700,724 698,738 688,750 680,742 676,733 666,738 662,758 668,766 676,780 684,794 688,798 696,810 704,806 720,800 732,740" fill="#FEB642"/>
<polygon points="624,737 630,738 632,732 635,746 640,755 647,741 654,749 658,756 662,768 656,780 653,790 646,778 640,774 640,788 632,786 628,770 626,752 622,744" fill="#D9D9D9"/>
<polygon points="620,630 628,626 640,636 650,634 656,642 668,644 680,638 678,630 688,626 696,626 694,618 702,618 704,608 718,602 724,608 726,616 736,616 746,620 752,630 750,638 742,634 748,644 740,648 744,654 738,660 746,666 738,674 732,680 728,688 710,690 706,708 704,720 696,726 700,734 692,744 690,752 682,744 678,734 668,736 662,752 658,756 648,742 640,752 636,746 632,732 630,700 628,684 620,668 608,620 612,610" fill="#FFFACA"/>
<polygon points="740,590 742,590 740,600 748,604 758,602 766,596 776,598 780,606 794,604 798,598 798,612 792,620 786,624 786,634 778,636 766,644 758,640 752,636 752,630 746,620 736,616 740,606" fill="#FFF0AE"/>
<polygon points="782,624 792,620 804,616 812,612 826,616 834,614 838,626 836,640 840,650 832,654 820,648 812,642 802,642 792,638 786,634 786,624" fill="#CC4C02"/>
<polygon points="834,614 852,614 846,620 854,626 866,630 872,632 882,640 878,646 868,650 870,666 860,664 850,658 840,650 836,640 838,626" fill="#AA3C03"/>
<polygon points="866,630 886,630 900,628 904,632 910,640 920,646 924,656 920,660 900,670 898,664 890,664 880,672 870,666 868,650 878,646 882,640 872,632" fill="#F27E1B"/>
<polygon points="798,580 808,580 816,584 824,586 832,588 834,614 826,616 812,612 804,616 798,612 798,598" fill="#FECE65"/>
<polygon points="824,586 826,578 836,576 846,574 860,580 870,590 872,600 866,610 852,614 834,614 832,588" fill="#FE9929"/>
<polygon points="844,560 888,560 886,576 884,592 888,596 892,610 900,620 900,628 886,630 866,630 854,626 846,620 852,614 866,610 872,600 870,590 860,580 846,574" fill="#FEE391"/>
<polygon points="847,580 856,570 866,571 864,580 852,587" fill="#CC4C02"/>
<polygon points="760,644 766,644 778,636 786,634 792,638 802,642 804,652 798,660 794,666 782,670 776,668 770,658 764,652" fill="#CC4C02"/>
<polygon points="742,634 750,638 760,644 764,652 770,658 776,668 780,680 784,692 778,700 780,710 774,718 760,712 756,704 760,696 752,688 744,680 738,674 746,666 738,660 744,654 740,648 748,644" fill="#FE9929"/>
<polygon points="744,680 752,672 760,672 768,680 774,688 778,700 780,710 774,718 760,712 756,704 760,696 752,688" fill="#F27E1B"/>
<polygon points="802,642 812,642 820,648 832,654 840,650 844,666 838,672 834,680 828,688 820,698 816,708 806,710 800,702 792,700 786,700 784,692 780,680 776,668 782,670 794,666 798,660 804,652" fill="#FEB642"/>
<polygon points="780,668 794,666 806,672 808,684 800,692 786,696 782,684" fill="#FECE65"/>
<polygon points="806,652 820,648 832,654 840,650 844,666 838,672 828,688 820,698 808,696 810,680 806,668" fill="#FE9929"/>
<polygon points="840,650 850,658 860,664 870,666 880,672 882,682 878,688 860,694 854,696 844,698 838,700 828,704 820,698 828,688 834,680 838,672 844,666" fill="#E1640E"/>
<polygon points="710,690 728,688 732,680 738,674 744,680 752,688 760,696 756,704 760,712 774,718 772,724 780,734 784,740 780,746 794,760 796,768 784,770 774,762 766,760 760,766 752,760 750,750 740,746 732,758 728,768 720,778 718,788 722,800 716,804 704,806 696,812 688,798 682,786 674,772 668,764 660,768 658,756 662,752 668,736 678,734 682,744 690,752 692,744 700,734 696,726 704,720 706,708" fill="#FEB642"/>
<polygon points="718,722 724,712 734,704 742,702 752,708 754,716 746,726 742,738 730,744 728,750 722,740 720,732" fill="#E1640E"/>
<polygon points="724,714 734,704 742,702 750,708 748,714 738,718 730,720" fill="#CC4C02"/>
<polygon points="742,738 746,726 754,716 760,712 774,718 772,724 774,734 772,750 760,766 752,760 750,750 740,746" fill="#FECE65"/>
<polygon points="680,786 688,780 700,782 702,790 698,802 696,810 688,798" fill="#FFF0AE"/>
<polygon points="778,700 786,700 792,700 800,702 806,710 800,716 794,720 796,730 800,740 796,744 784,740 780,734 772,724 774,718 780,710" fill="#F27E1B"/>
<polygon points="794,712 804,708 816,708 820,698 828,704 832,716 828,726 816,732 800,736 796,730 794,720" fill="#FEB642"/>
<polygon points="800,740 816,732 828,726 832,726 838,736 836,738 826,732 820,734 812,738 804,748 796,744" fill="#F27E1B"/>
<polygon points="780,746 788,744 796,744 804,748 812,738 820,734 826,732 836,738 834,748 828,758 830,772 824,778 814,778 808,780 800,772 796,768 794,760" fill="#CC4C02"/>
<polygon points="838,700 844,698 844,712 850,718 858,726 860,732 862,740 863,760 862,772 852,780 846,774 830,772 828,758 834,748 836,738 838,736 832,726 832,716 828,704" fill="#FEE391"/>
<polygon points="860,732 868,722 878,726 886,736 882,750 878,760 870,766 863,760 862,740" fill="#FFF0AE"/>
<polygon points="844,698 854,696 860,694 878,688 882,682 886,700 888,710 878,718 872,718 868,722 860,732 858,726 850,718 844,712" fill="#FE9929"/>
<polygon points="882,682 880,672 890,664 898,664 900,670 920,660 932,664 932,708 908,708 890,710 888,710 886,700" fill="#E1640E"/>
<polygon points="872,718 878,718 888,710 890,710 908,708 932,708 932,780 912,780 900,776 896,768 894,756 900,748 886,736 878,726 868,722" fill="#E1640E"/>
<polygon points="896,752 908,746 932,746 932,770 904,770 898,762" fill="#AA3C03"/>
<polygon points="870,766 878,760 882,750 886,736 900,748 894,756 896,768 900,776 912,780 920,780 920,840 908,844 900,836 906,820 900,812 886,808 876,814 872,810 876,800 866,796 868,784 862,772" fill="#FE9929"/>
<polygon points="872,810 886,808 900,812 906,820 900,836 888,844 878,840 872,826" fill="#FEE391"/>
<polygon points="734,786 740,780 748,776 752,778 760,774 768,776 772,770 774,762 784,770 796,768 800,772 808,780 814,778 824,778 826,790 818,798 822,802 834,808 840,820 828,830 820,834 810,826 800,836 790,840 784,848 776,846 768,840 758,840 760,830 750,820 754,806 758,798 748,792 740,796" fill="#FEE391"/>
<polygon points="760,810 768,796 780,798 792,792 796,800 792,810 798,820 796,830 790,840 784,848 776,846 768,840 758,840 760,830 756,820" fill="#FEB642"/>
<polygon points="824,778 830,772 846,774 852,780 858,788 860,800 866,806 864,818 856,822 848,828 840,820 834,808 822,802 818,798 826,790" fill="#AA3C03"/>
<polygon points="852,780 862,772 868,784 866,796 876,800 872,810 872,826 868,828 858,826 848,828 856,822 864,818 866,806 860,800 858,788" fill="#FFF0AE"/>
<polygon points="720,778 728,768 732,758 740,746 750,750 752,760 760,766 766,760 774,762 772,770 768,776 760,774 752,778 748,776 740,780 734,786 740,796 748,792 758,798 754,806 750,820 760,830 758,840 754,848 760,860 720,860 724,848 728,830 726,812 722,800 718,788" fill="#FEE391"/>
<polygon points="879,672 884,666 892,663 898,668 892,673 884,676" fill="#662506"/>
<polygon points="980,532 1052,480 1180,480 1180,780 940,780 940,600 960,568" fill="#E1640E"/>
<polygon points="964,480 1020,480 1016,488 1006,494 994,498 986,494 974,488" fill="#AA3C03"/>
<polygon points="958,490 964,480 974,488 986,494 994,498 1006,494 1016,488 1028,488 1052,480 1051,490 1056,498 1044,510 1030,512 1020,518 1010,526 998,532 980,532 966,536 970,520 966,504" fill="#E1640E"/>
<polygon points="956,540 966,536 980,532 998,532 1004,536 997,544 999,550 994,554 980,552 966,548" fill="#FEB642"/>
<polygon points="1010,526 1020,518 1030,512 1044,510 1040,520 1034,528 1030,538 1024,544 1020,536 1016,530" fill="#AA3C03"/>
<polygon points="997,544 1004,536 1016,530 1020,536 1024,544 1020,550 1010,556 1000,558 999,550" fill="#FE9929"/>
<polygon points="988,580 994,572 1000,564 1010,559 1024,558 1044,564 1048,574 1044,586 1038,596 1032,588 1022,586 1019,594 1004,594 992,586" fill="#F27E1B"/>
<polygon points="1016,562 1028,560 1044,564 1048,574 1044,586 1038,592 1030,584 1020,578 1016,570" fill="#FE9929"/>
<polygon points="1062,504 1076,503 1082,506 1086,512 1080,520 1078,525 1070,528 1064,520 1060,514" fill="#FE9929"/>
<polygon points="1062,540 1070,528 1080,525 1090,528 1098,526 1102,520 1108,514 1116,512 1128,514 1136,520 1132,528 1130,534 1120,538 1116,528 1104,530 1094,536 1092,546 1084,556 1076,558 1068,552" fill="#AA3C03"/>
<polygon points="1094,536 1104,530 1116,528 1120,538 1130,534 1136,538 1128,540 1120,548 1112,554 1106,560 1100,566 1094,572 1090,564 1084,556 1092,546" fill="#CC4C02"/>
<polygon points="1130,534 1132,528 1136,520 1146,519 1166,520 1162,532 1156,538 1148,538 1136,538" fill="#F27E1B"/>
<polygon points="1072,560 1084,556 1090,564 1094,572 1088,580 1080,574 1072,572" fill="#882F05"/>
<polygon points="962,549 980,552 994,554 1000,558 1000,564 994,572 988,580 980,576 970,574 960,568" fill="#F27E1B"/>
<polygon points="968,558 978,560 982,566 974,571 969,566" fill="#FEE391"/>
<polygon points="928,576 940,576 960,568 970,574 980,576 988,580 992,586 986,594 982,600 970,598 952,600 940,600 928,600" fill="#FEB642"/>
<polygon points="992,586 1004,594 1019,594 1026,604 1028,612 1022,618 1012,612 1006,608 1002,616 998,624 988,632 994,642 980,648 964,644 952,640 948,632 956,624 960,614 966,608 970,598 982,600 986,594" fill="#F27E1B"/>
<polygon points="948,632 956,624 960,614 966,608 974,616 984,624 990,636 994,642 980,648 964,644 952,640" fill="#FE9929"/>
<polygon points="928,600 940,600 952,600 970,598 966,608 960,614 956,624 948,632 940,634 928,634" fill="#F27E1B"/>
<polygon points="928,650 940,650 960,650 964,644 980,648 994,642 1010,646 1011,660 1006,666 998,674 994,672 978,672 976,680 970,690 960,698 956,706 952,700 940,700 928,700" fill="#AA3C03"/>
<polygon points="988,632 998,624 1002,616 1006,608 1012,612 1022,618 1028,626 1022,636 1026,646 1024,654 1011,646 1010,646 994,642" fill="#E1640E"/>
<polygon points="1022,618 1028,612 1026,604 1032,608 1044,616 1056,628 1052,634 1044,638 1038,640 1022,636 1028,626" fill="#F27E1B"/>
<polygon points="1022,636 1038,640 1044,650 1054,656 1064,662 1076,670 1076,676 1068,682 1060,688 1050,692 1038,692 1036,682 1040,670 1030,668 1028,658 1024,654 1026,646" fill="#882F05"/>
<polygon points="1056,664 1064,662 1076,670 1076,676 1068,680 1060,676" fill="#662506"/>
<polygon points="1011,646 1024,654 1028,658 1030,668 1040,670 1036,682 1026,684 1014,684 1000,676 998,674 1006,666 1011,660" fill="#FE9929"/>
<polygon points="1044,638 1052,634 1060,638 1070,646 1072,654 1068,658 1064,662 1054,656 1044,650 1038,640" fill="#CC4C02"/>
<polygon points="1010,688 1014,684 1026,684 1036,682 1038,692 1050,692 1060,688 1068,700 1078,708 1074,716 1064,724 1054,722 1044,716 1038,714 1034,720 1028,718 1030,710 1022,712 1016,716 1014,706 1009,694" fill="#662506"/>
<polygon points="1038,714 1044,716 1048,724 1044,732 1046,740 1040,742 1034,738 1036,726" fill="#662506"/>
<polygon points="1060,688 1068,682 1076,676 1080,680 1092,682 1090,692 1086,700 1078,708 1068,700" fill="#CC4C02"/>
<polygon points="1064,724 1074,716 1078,708 1086,700 1090,692 1100,694 1110,700 1116,706 1108,712 1098,720 1088,728 1084,734 1078,728 1070,727" fill="#E1640E"/>
<polygon points="1044,716 1054,722 1064,724 1070,727 1060,730 1064,740 1068,752 1060,760 1052,756 1046,740 1044,732 1048,724" fill="#F27E1B"/>
<polygon points="978,672 994,672 998,674 1000,676 1014,684 1010,688 1009,694 1014,706 1016,716 1006,716 1000,710 994,702 986,694 978,684 976,680" fill="#882F05"/>
<polygon points="980,696 986,694 994,702 1000,710 1001,718 994,720 984,712 979,704" fill="#FECE65"/>
<polygon points="960,698 970,690 976,680 978,684 986,694 980,696 979,704 984,712 994,720 984,726 974,730 966,736 960,728 958,716 966,708" fill="#E1640E"/>
<polygon points="928,700 940,700 952,700 956,706 960,698 966,708 958,716 944,718 928,720" fill="#CC4C02"/>
<polygon points="940,690 954,688 955,699 940,700" fill="#662506"/>
<polygon points="928,720 944,718 958,716 960,728 966,736 970,746 960,750 952,748 940,750 928,750" fill="#882F05"/>
<polygon points="966,736 974,730 984,726 994,720 1001,718 1006,716 1016,716 1022,712 1030,710 1028,718 1034,720 1036,726 1034,738 1024,732 1014,734 1002,738 1000,746 1004,754 996,752 988,742 978,738 970,746" fill="#F27E1B"/>
<polygon points="1002,738 1014,734 1024,732 1028,742 1024,750 1016,756 1008,754 1004,746" fill="#FE9929"/>
<polygon points="1034,738 1040,742 1046,740 1052,756 1060,760 1068,752 1072,756 1060,764 1044,768 1036,774 1040,780 1010,780 1008,768 1016,756 1024,750 1028,742" fill="#F27E1B"/>
<polygon points="1028,754 1036,748 1042,750 1042,760 1038,766 1030,760" fill="#FEE391"/>
<polygon points="928,750 940,750 952,748 960,750 970,746 978,738 988,742 996,752 1004,754 1008,754 1016,756 1008,768 1010,780 958,780 928,780" fill="#AA3C03"/>
<polygon points="960,768 968,764 972,772 968,780 959,780" fill="#662506"/>
<polygon points="980,760 996,758 1000,768 992,776 980,774" fill="#882F05"/>
<polygon points="1022,586 1032,588 1038,596 1048,600 1060,598 1068,592 1076,584 1085,586 1080,592 1072,600 1064,608 1060,616 1056,628 1044,616 1032,608 1026,604 1019,594" fill="#CC4C02"/>
<polygon points="1019,594 1022,586 1032,588 1038,596 1040,604 1032,608 1026,604" fill="#E1640E"/>
<polygon points="1068,592 1076,584 1085,586 1092,592 1096,600 1090,608 1082,602 1076,598" fill="#F27E1B"/>
<polygon points="1038,596 1048,600 1060,598 1068,592 1076,598 1082,602 1090,608 1080,616 1072,620 1060,628 1056,628 1060,616 1052,610 1044,606" fill="#CC4C02"/>
<polygon points="1090,608 1096,600 1100,596 1110,600 1116,612 1120,624 1124,634 1128,644 1134,648 1142,658 1148,664 1149,672 1140,670 1128,664 1116,660 1110,652 1104,640 1096,630 1088,624 1080,616" fill="#AA3C03"/>
<polygon points="1060,628 1072,620 1080,616 1088,624 1084,628 1086,640 1080,648 1072,646 1070,646 1064,638" fill="#AA3C03"/>
<polygon points="1084,628 1092,624 1096,630 1100,642 1100,652 1092,654 1082,656 1080,648 1086,640" fill="#F27E1B"/>
<polygon points="1082,656 1092,654 1100,652 1100,660 1094,664 1084,666" fill="#FEB642"/>
<polygon points="1072,654 1080,648 1082,656 1084,666 1088,670 1092,682 1080,680 1076,676 1076,670 1068,658" fill="#CC4C02"/>
<polygon points="1084,666 1094,664 1100,660 1106,662 1106,670 1100,676 1094,678 1092,682 1088,670" fill="#CC4C02"/>
<polygon points="1100,652 1110,652 1116,660 1128,664 1140,670 1132,673 1126,680 1120,684 1112,688 1104,680 1106,670 1106,662 1100,660" fill="#E1640E"/>
<polygon points="1092,682 1094,678 1100,676 1104,680 1112,688 1120,684 1124,686 1116,696 1110,700 1100,694 1090,692" fill="#E1640E"/>
<polygon points="1126,680 1132,673 1142,677 1150,680 1148,688 1138,690 1130,695 1124,686" fill="#E1640E"/>
<polygon points="1110,700 1116,696 1124,686 1130,695 1126,699 1120,704 1112,706" fill="#FE9929"/>
<polygon points="1088,728 1098,720 1108,712 1116,706 1112,706 1120,704 1114,714 1104,720 1096,730 1090,736 1084,734" fill="#E1640E"/>
<polygon points="1090,736 1096,730 1104,720 1114,714 1120,704 1126,699 1132,700 1140,704 1148,712 1150,720 1148,730 1144,738 1132,734 1120,736 1112,740 1100,748 1092,746" fill="#AA3C03"/>
<polygon points="1112,740 1120,736 1132,734 1144,738 1142,748 1134,756 1128,764 1120,760 1116,750" fill="#CC4C02"/>
<polygon points="1060,730 1070,727 1078,728 1084,734 1088,742 1084,750 1076,754 1068,752 1064,740" fill="#FECE65"/>
<polygon points="1076,754 1084,750 1088,742 1092,746 1100,748 1112,740 1116,750 1110,760 1100,770 1092,776 1080,778 1078,768" fill="#FEB642"/>
<polygon points="1036,774 1044,768 1060,764 1072,756 1074,756 1078,768 1080,780 1040,780" fill="#FEE391"/>
<polygon points="1110,760 1116,750 1120,760 1128,764 1122,770 1118,780 1106,780 1112,770" fill="#F27E1B"/>
<polygon points="1092,776 1100,770 1110,760 1112,770 1106,780 1092,780" fill="#F27E1B"/>
<polygon points="604,752 612,760 626,760 660,760 668,765 674,774 682,788 689,800 695,812 704,808 712,806 722,800 718,790 720,778 728,772 732,760 752,760 756,765 764,763 770,760 772,770 768,778 760,779 754,776 748,782 742,777 736,786 738,796 742,799 751,796 757,800 758,806 752,818 754,828 760,834 756,840 755,848 760,854 770,862 780,863 788,862 792,868 790,876 780,880 780,900 760,940 580,940 580,760" fill="#FEE391"/>
<polygon points="624,818 630,820 638,830 646,836 656,844 664,848 665,860 660,874 656,884 642,890 630,886 628,876 624,868 628,861 623,854 618,846 612,829" fill="#FECE65"/>
<polygon points="632,810 644,798 660,796 663,808 672,808 674,820 675,830 668,844 658,845 648,834 638,826" fill="#E1640E"/>
<polygon points="612,760 626,760 630,786 640,788 644,798 632,810 629,820 624,818 623,812 626,800 625,786 623,774 614,770 613,757 618,758 623,758 626,752 628,770" fill="#FFFACA"/>
<polygon points="626,760 660,760 658,770 657,782 654,790 648,780 644,774 640,786 630,786" fill="#D9D9D9"/>
<polygon points="622,818 629,820 636,826 640,836 640,840 603,840 612,828 618,820" fill="#FECE65"/>
<polygon points="660,760 668,748 732,748 732,760 728,772 720,778 718,790 722,800 712,806 704,808 695,812 689,800 682,788 674,774 668,765" fill="#FEB642"/>
<polygon points="680,783 688,780 700,784 702,788 698,800 695,809 689,800 682,788" fill="#FFFACA"/>
<polygon points="706,816 720,810 724,802 728,790 734,787 738,796 742,799 751,796 757,800 758,806 752,818 754,828 760,834 756,840 755,848 760,854 746,854 740,860 734,868 736,880 740,888 742,896 734,899 728,896 720,902 710,896 704,902 698,896 694,888 696,880 688,872 682,856 692,854 698,846 706,836 708,824" fill="#FECE65"/>
<polygon points="728,790 734,787 738,796 742,799 751,796 757,800 758,806 752,818 754,828 760,834 756,840 755,848 746,854 740,860 734,868 736,880 740,888 742,896 734,899 728,896 720,902 710,896 704,902 698,896 694,888 700,880 702,866 708,862 720,860 724,850 734,846 734,836 728,828 730,816 726,808" fill="#FEB642"/>
<polygon points="760,854 770,862 780,863 788,862 792,868 790,876 780,880 773,880 766,884 756,894 746,896 742,896 740,888 736,880 734,868 740,860 746,854" fill="#FECE65"/>
<polygon points="654,915 656,909 666,902 684,900 689,912 693,920 694,937 688,934 682,936 678,921 668,926 657,928 653,920" fill="#FEB642"/>
<polygon points="736,786 742,777 748,782 754,776 760,779 768,778 772,770 780,770 796,776 802,780 800,786 792,794 780,802 772,800 764,790 758,794 757,800 751,796 742,799 738,796" fill="#FEE391"/>
<polygon points="757,800 758,794 764,790 772,800 780,802 792,794 800,786 810,780 816,782 814,792 806,804 796,808 794,820 798,830 792,840 788,846 778,842 770,838 762,846 756,840 760,834 754,828 752,818 758,806" fill="#FEB642"/>
<polygon points="764,810 768,808 780,818 790,820 798,830 792,840 788,846 778,842 770,838 762,846 758,844 760,834 762,820" fill="#FE9929"/>
<polygon points="800,786 810,780 816,782 814,792 806,804 796,800 792,794" fill="#FE9929"/>
<polygon points="816,782 820,778 826,796 818,800 828,806 836,818 840,826 832,830 828,834 820,826 816,824 810,830 800,834 798,830 794,820 796,808 806,804 814,792" fill="#FEE391"/>
<polygon points="780,748 792,742 806,740 820,732 832,736 836,746 830,756 830,764 828,776 820,780 816,776 806,780 796,770 794,760 780,758 772,752" fill="#CC4C02"/>
<polygon points="790,768 806,774 810,780 816,782 820,778 823,780 830,772 830,760 794,760" fill="#CC4C02"/>
<polygon points="836,700 842,698 846,710 844,720 854,730 860,746 862,758 866,768 864,776 856,778 848,775 836,780 828,776 830,764 830,756 836,746 832,736 834,720" fill="#FFF0AE"/>
<polygon points="818,800 826,792 824,784 836,780 848,775 856,778 854,784 866,784 868,792 864,802 866,812 860,818 856,820 846,828 838,820 836,812 826,804" fill="#AA3C03"/>
<polygon points="792,808 796,800 806,796 818,800 826,804 836,812 838,820 846,828 838,826 832,828 828,834 820,832 816,824 810,826 806,834 800,838 796,824 792,818" fill="#FEE391"/>
<polygon points="796,770 806,780 816,776 820,780 824,784 826,792 818,800 806,796 796,800 794,788 796,780" fill="#FE9929"/>
<polygon points="780,800 788,800 796,800 792,808 792,818 796,824 800,838 792,840 786,846 780,844 774,820" fill="#FE9929"/>
<polygon points="780,680 832,680 820,692 820,700 810,706 800,704 792,708 780,700 772,690" fill="#F27E1B"/>
<polygon points="780,700 792,708 800,704 810,706 820,700 832,702 836,700 834,720 832,736 820,732 806,740 792,742 780,748 772,720" fill="#F27E1B"/>
<polygon points="794,714 806,710 812,720 808,732 798,730" fill="#FEB642"/>
<polygon points="780,844 786,846 792,840 800,838 806,834 810,826 816,824 820,832 828,834 832,828 838,826 846,828 856,820 864,818 868,812 874,814 878,808 884,812 892,806 900,805 906,808 908,816 911,817 910,824 904,830 900,838 908,836 912,846 924,844 923,852 920,860 916,870 910,878 908,888 900,896 894,900 895,908 888,910 884,918 876,920 874,932 840,936 800,920 780,896 778,888 773,880 780,880 790,876 792,868 788,862 780,863 770,862 760,854 755,848 762,846 770,838 778,842" fill="#FFFACA"/>
<polygon points="806,840 820,834 836,832 850,834 858,840 854,850 860,856 872,858 884,854 888,860 882,868 874,876 864,880 856,878 848,870 838,868 828,872 816,864 808,856 804,848" fill="#FFFFE5"/>
<polygon points="856,820 864,818 868,812 874,814 874,824 870,836 874,846 880,854 872,858 860,856 854,850 858,840 850,834 852,826" fill="#FFF0AE"/>
<polygon points="874,814 878,808 884,812 892,806 900,805 906,808 908,816 911,817 910,824 904,830 900,838 908,836 912,846 924,844 923,852 920,860 910,858 900,854 892,856 884,854 880,854 874,846 870,836 874,824" fill="#FECE65"/>
<polygon points="884,854 892,856 900,854 910,858 920,860 916,870 910,878 908,888 900,892 894,886 884,888 876,890 868,886 860,884 864,880 874,876 882,868 888,860" fill="#FEE391"/>
<polygon points="872,894 876,890 884,888 894,886 900,892 900,896 894,900 895,908 888,910 884,918 876,920 870,916 868,906 870,898" fill="#FEB642"/>
<polygon points="824,910 840,904 860,900 868,906 870,916 860,918 852,920 846,923 837,927 830,923 823,920" fill="#FFF0AE"/>
<polygon points="852,920 860,918 870,917 872,924 871,930 864,928 858,931 854,924" fill="#E1640E"/>
<polygon points="842,698 848,700 854,714 860,726 866,720 874,724 882,734 886,742 898,738 902,742 896,754 900,764 894,774 888,780 880,788 874,796 878,808 874,814 868,812 866,812 864,802 868,792 866,784 864,776 866,768 862,758 860,746 854,730 844,720 846,710" fill="#FECE65"/>
<polygon points="860,722 874,724 882,734 886,742 880,750 880,760 870,766 864,760 862,746" fill="#FFF0AE"/>
<polygon points="846,698 860,692 872,686 882,680 924,680 920,692 918,700 908,708 900,710 890,710 888,718 878,716 872,722 866,720 860,726 854,714 848,700" fill="#E1640E"/>
<polygon points="846,698 860,692 872,686 880,688 884,700 880,712 878,716 872,722 866,720 860,726 854,714 848,700" fill="#FE9929"/>
<polygon points="872,722 878,716 888,718 890,710 900,710 912,712 924,716 930,722 928,734 934,742 928,748 918,748 908,750 898,752 896,754 902,742 898,738 886,742 882,734 874,724" fill="#E1640E"/>
<polygon points="908,708 918,700 920,692 924,680 980,680 978,690 972,698 968,704 960,714 956,718 946,717 940,720 930,722 924,716 912,712 900,710" fill="#CC4C02"/>
<polygon points="908,708 920,702 936,700 950,704 964,708 960,714 956,718 946,717 940,720 930,722 924,716 912,712" fill="#AA3C03"/>
<polygon points="938,692 952,688 954,698 944,698" fill="#662506"/>
<polygon points="930,722 940,720 946,717 956,718 960,726 962,734 970,742 968,748 960,750 952,746 940,748 934,742 928,734" fill="#882F05"/>
<polygon points="896,754 898,752 908,750 918,748 928,748 920,760 924,768 936,766 932,776 924,780 916,788 904,784 898,774 900,764" fill="#CC4C02"/>
<polygon points="896,754 908,750 928,748 934,742 940,748 952,746 960,750 968,748 970,756 964,762 950,760 940,758 932,760 920,760 910,758" fill="#AA3C03"/>
<polygon points="920,760 932,760 940,758 950,760 964,762 962,772 966,784 968,800 968,810 964,810 958,800 954,788 946,778 932,776 936,766 924,768" fill="#CC4C02"/>
<polygon points="914,788 924,780 932,776 946,778 954,788 958,800 964,810 968,820 966,828 956,829 948,828 944,834 940,840 938,832 932,830 928,816 926,800 920,794" fill="#AA3C03"/>
<polygon points="880,788 888,780 894,774 898,774 904,784 916,788 914,788 920,794 926,800 928,816 932,830 926,836 923,844 912,846 908,836 900,838 904,830 910,824 911,817 908,816 906,808 900,805 892,806 884,812 878,808 874,796" fill="#F27E1B"/>
<polygon points="968,704 972,698 978,690 980,680 1010,680 1014,690 1016,704 1000,714 992,720 980,726 972,730 966,726 972,716" fill="#E1640E"/>
<polygon points="980,700 984,694 994,704 1000,714 992,720 984,714" fill="#FECE65"/>
<polygon points="986,680 1010,680 1014,690 1016,704 1016,716 1006,716 1000,714 994,704 984,694" fill="#882F05"/>
<polygon points="966,726 972,730 980,726 992,720 1000,714 1006,716 1016,716 1028,710 1030,720 1038,718 1035,730 1038,740 1047,738 1060,730 1064,746 1068,756 1060,760 1046,764 1038,768 1036,778 1028,788 1024,800 1016,792 1010,780 1014,766 1012,754 1000,746 996,734 988,738 976,746 970,742" fill="#F27E1B"/>
<polygon points="1006,730 1020,728 1026,738 1020,748 1010,746" fill="#FE9929"/>
<polygon points="970,742 976,746 988,738 996,734 1000,746 1012,754 1014,766 1010,780 1016,792 1024,800 1020,812 1014,824 1010,836 1008,848 1000,844 988,846 976,850 974,844 982,832 976,828 967,828 966,820 970,810 968,804 966,792 964,782 960,774 962,766 968,758 972,750" fill="#AA3C03"/>
<polygon points="964,764 972,760 982,760 992,758 1004,766 1006,780 1010,792 1000,800 990,804 978,808 968,804 966,792 964,782 960,774" fill="#882F05"/>
<polygon points="959,774 962,766 968,764 972,772 968,780 964,782" fill="#662506"/>
<polygon points="1014,766 1012,754 1020,748 1030,752 1040,764 1038,768 1036,778 1028,788 1024,800 1016,792 1010,780" fill="#E1640E"/>
<polygon points="1030,752 1036,746 1044,750 1046,760 1040,764" fill="#FEE391"/>
<polygon points="984,833 980,829 978,820 968,818 968,808 980,808 992,806 1006,800 1016,786 1026,794 1024,812 1016,820 1012,832 1010,842 1008,849 978,850 973,846 978,840" fill="#AA3C03"/>
<polygon points="1010,842 1012,832 1016,820 1024,812 1040,818 1048,828 1048,834 1046,838 1038,844 1032,854 1028,850 1020,844" fill="#FEE391"/>
<polygon points="1024,812 1026,794 1038,784 1048,790 1052,800 1066,806 1060,816 1052,826 1048,828 1040,818" fill="#FECE65"/>
<polygon points="1038,784 1036,772 1042,766 1052,760 1072,760 1078,772 1076,782 1084,782 1072,792 1070,804 1066,806 1052,800 1048,790" fill="#FEE391"/>
<polygon points="1002,764 1006,772 1012,780 1016,786 1026,794 1038,784 1036,772 1042,766 1038,760 1000,760" fill="#E1640E"/>
<polygon points="1032,854 1038,844 1046,838 1048,834 1050,840 1056,842 1055,852 1060,856 1054,862 1048,868 1042,874 1038,874 1035,864" fill="#882F05"/>
<polygon points="1048,834 1052,826 1060,816 1066,815 1068,822 1072,828 1080,830 1080,840 1074,846 1066,852 1060,856 1055,852 1056,842 1050,840" fill="#E1640E"/>
<polygon points="1056,842 1062,840 1066,846 1062,852 1055,852" fill="#FEB642"/>
<polygon points="1066,815 1070,804 1080,798 1094,796 1098,806 1097,818 1100,824 1092,831 1084,836 1080,830 1072,828 1068,822" fill="#FEE391"/>
<polygon points="1068,822 1072,818 1080,822 1082,830 1080,830 1072,828" fill="#FEB642"/>
<polygon points="1070,804 1072,792 1084,782 1094,770 1098,778 1108,776 1120,778 1112,788 1108,794 1104,800 1098,808 1094,796 1080,798" fill="#E1640E"/>
<polygon points="1072,760 1134,760 1126,770 1120,778 1108,776 1098,778 1094,770 1084,782 1076,782 1078,772" fill="#F27E1B"/>
<polygon points="1072,760 1096,760 1094,770 1084,782 1076,782 1078,772" fill="#FEB642"/>
<polygon points="874,930 873,920 886,918 887,912 894,908 893,902 906,896 909,900 906,908 908,918 909,926 900,933 893,936 890,938 883,939 883,944 888,948 893,957 886,962 876,962 872,952 869,946 870,936" fill="#FEB642"/>
<polygon points="893,902 906,896 910,884 920,886 928,888 930,898 920,900 910,908 906,918 909,928 900,933 893,936 887,926 886,918 887,912 894,908" fill="#FE9929"/>
<polygon points="910,908 920,900 930,898 934,900 948,904 958,900 960,900 960,912 952,918 948,920 944,924 940,929 934,927 924,926 916,929 909,928 906,918" fill="#FECE65"/>
<polygon points="910,884 909,878 916,870 922,860 928,854 934,862 940,872 938,882 928,888 920,886" fill="#FEE391"/>
<polygon points="924,844 928,835 940,836 942,841 946,838 944,831 952,827 964,829 980,829 984,833 978,840 973,846 978,850 972,856 978,862 968,868 964,876 968,884 960,890 962,896 960,900 958,900 948,904 934,900 930,898 928,888 938,882 940,872 934,862 928,854 922,860 921,854" fill="#FEB642"/>
<polygon points="973,846 978,850 1008,849 1010,842 1020,844 1028,850 1032,854 1030,860 1024,868 1016,872 1004,877 1010,886 1018,896 1008,897 1002,900 994,898 990,900 984,900 980,903 976,898 968,894 962,896 960,890 968,884 964,876 968,868 978,862 972,856" fill="#FE9929"/>
<polygon points="962,896 965,893 972,896 978,896 981,900 980,903 974,900 968,901 963,900" fill="#AA3C03"/>
<polygon points="966,903 976,902 976,908 968,910 965,907" fill="#FEE391"/>
<polygon points="1004,877 1016,872 1024,868 1028,860 1032,854 1035,864 1038,874 1038,880 1032,886 1025,892 1018,896 1010,886" fill="#AA3C03"/>
<polygon points="1020,878 1028,874 1032,878 1024,890 1018,888" fill="#CC4C02"/>
<polygon points="880,790 892,786 914,790 920,796 926,806 928,820 932,830 940,836 928,835 924,844 911,846 909,840 900,839 906,830 910,818 906,807 896,805 888,808 883,813 878,810 875,800" fill="#F27E1B"/>
<polygon points="1042.7,726.7 1050.7,722.7 1058.7,726.7 1059.3,730.7 1062.7,737.3 1066.7,744 1068,753.3 1066.7,756 1058.7,761.3 1050.7,766.7 1044,764 1044,761.3 1042.7,753.3 1041.3,746.7 1046.7,740 1044,733.3" fill="#F27E1B"/>
<polygon points="1028.7,754.7 1034.7,748 1041.3,746.7 1042.7,753.3 1044,761.3 1040,765.3 1033.3,761.3" fill="#FEE391"/>
<polygon points="1004,770.7 1014.7,760 1028.7,754.7 1033.3,761.3 1040,765.3 1044,764 1038.7,770.7 1037.3,780 1029.3,788 1024,793.3 1016,797.3 1008,790.7" fill="#E1640E"/>
<polygon points="1059.3,730.7 1065.3,725.3 1074.7,730.7 1080,728 1085.3,730.7 1088,740 1085.3,744 1078.7,745.3 1073.3,749.3 1072,754.7 1068,753.3 1066.7,744 1062.7,737.3" fill="#FECE65"/>
<polygon points="1073.3,749.3 1078.7,745.3 1085.3,744 1090.7,746.7 1096,748 1106.7,740 1110.7,748 1110.7,757.3 1106.7,764 1098.7,765.3 1093.3,770.7 1086.7,776 1078.7,772 1076,761.3 1074,756 1072,754.7" fill="#FEB642"/>
<polygon points="1086.7,730.7 1093.3,724 1098.7,716 1106.7,710.7 1112,706.7 1120,705.3 1126.7,700 1133.3,702.7 1141.3,709.3 1145.3,718.7 1149.3,734.7 1141.3,733.3 1136,730.7 1128,728 1120,730.7 1114.7,737.3 1109.3,740 1106.7,740 1096,748 1090.7,746.7 1088,740" fill="#AA3C03"/>
<polygon points="1110.7,748 1109.3,740 1114.7,737.3 1120,730.7 1128,728 1136,730.7 1141.3,733.3 1149.3,734.7 1144,745.3 1141.3,753.3 1133.3,760 1128,764 1129.3,748 1120,746.7" fill="#CC4C02"/>
<polygon points="1110.7,748 1120,746.7 1129.3,748 1128,764 1124,768 1118.7,776 1113.3,784 1110.7,777.3 1101.3,780 1096,776 1093.3,770.7 1098.7,765.3 1106.7,764 1110.7,757.3" fill="#F27E1B"/>
<polygon points="1070.7,797.3 1074.7,792 1080,784 1086.7,776 1093.3,770.7 1096,776 1101.3,780 1110.7,777.3 1113.3,784 1108,792 1102.7,797.3 1093.3,798.7 1085.3,798.7 1077.3,801.3 1072,804" fill="#E1640E"/>
<polygon points="1038.7,770.7 1044,764 1050.7,766.7 1058.7,761.3 1066.7,756 1072,754.7 1074,756 1076,761.3 1078.7,772 1086.7,776 1080,784 1074.7,792 1070.7,797.3 1066.7,793.3 1057.3,792 1049.3,794.7 1044,789.3 1037.3,780" fill="#FEE391"/>
<polygon points="1024,793.3 1029.3,788 1037.3,780 1044,789.3 1049.3,794.7 1057.3,792 1066.7,793.3 1070.7,797.3 1072,804 1069.3,809.3 1064,814.7 1056,816 1048,820 1017.3,820 1021.3,806.7" fill="#FECE65"/>
<polygon points="1072,804 1077.3,801.3 1085.3,798.7 1093.3,798.7 1102.7,797.3 1098.7,806.7 1096,820 1066.7,820 1069.3,809.3" fill="#FEE391"/>
<polygon points="624,737 630,738 632,732 635,746 640,755 647,741 654,749 658,756 662,768 656,780 653,790 646,778 640,774 640,788 632,786 628,770 626,752 622,744" fill="#D9D9D9"/>
</g>
<g stroke-linejoin="round">
<polygon points="847,982 862,968 880,964 894,962.4 900,966 902,976 895,982 890,996 883,1003 872,1014 858,1011 848,1006 846,990" fill="#FECE65" stroke="#555" stroke-width="0.9"/>
<polygon points="1137.3,830.1 1142.1,834.4 1145.3,835.5 1147.5,838.7 1144.3,842.9 1144.8,851.5 1141.1,858.9 1138.9,867.5 1136.8,878.1 1134.7,884.5 1132.5,892 1129.3,896.3 1125.1,899.5 1122.9,905.9 1121.9,917.6 1120.8,918.7 1118.1,917.1 1116.5,908 1113.3,904.8 1108,900.5 1105.9,894.1 1104.8,888.8 1102.5,887.7 1104.3,881.3 1104.8,871.7 1108,865.3 1112.3,857.9 1115.5,851.5 1121.9,844 1122.9,840.8 1127.2,836 1133.6,834.9" fill="#F27E1B" stroke="#555" stroke-width="0.9"/>
<polygon points="965.2,1283.4 968.6,1280.8 973.8,1276.5 979.9,1273.9 979,1277.4 976.4,1281.7 972.1,1284.3 966.9,1284.8" fill="#FECE65" stroke="#555" stroke-width="0.6"/>
<polygon points="865.5,1289.5 870.7,1283.4 875.9,1284.8 871.6,1286 867.3,1290.7" fill="#FECE65" stroke="#555" stroke-width="0.6"/>
</g>
<polygon points="182,599 174,596 166,592 162,580 161,571 144,571 134,566 126,560 119,562 114,556 115,548 110,540 102,538 100,534 90,533 81,529 83,526 95,525 95,520 92,516 91,510 90,499 87,493 80,490 70,493 65,488 66,482 62,478 59,471 66,469 67,462 69,454 76,452 87,448 89,443 98,443 106,440 108,448 116,447 129,443 131,434 136,429 146,430 156,426 164,421 180,414 190,409 202,404 210,398 210,387 214,380 222,376 220,366 215,354 213,340 209,334 203,331 210,327 226,324 243,319 248,322 259,323 263,320 256,315 259,304 272,271 278,272 286,276 310,277 316,280 323,276 332,275 331,262 329,250 333,241 346,240 355,234 356,226 360,222 380,221 382,226 379,230 385,236 394,242 402,248 412,251 420,251 425,255 432,255 438,262 442,272 450,280 453,288 450,295 451,300 445,308 444,316 448,322 460,325 474,326 490,327 504,328 514,332 524,338 536,344 544,347 550,347 551,353 556,358 560,368 564,376 570,380 574,386 590,385 608,388 630,390 650,389 676,388 696,392 706,400 700,399 714,400 726,405 740,409 755,408 756,413 766,415 772,410 784,404 800,398 820,393 840,393 866,393 874,389 881,388 892,380 898,372 902,369 912,366 922,361 919,354 913,350 910,343 916,330 922,325 932,326 940,332 958,334 968,329 980,319 984,316 1000,317 1010,312 1019,308 1020,302 1030,293 1042,292 1045,288 1064,284 1076,283 1080,287 1100,286 1097,274 1092,268 1084,262 1076,256 1070,252 1056,252 1044,260 1032,255 1020,256 1012,259 1003,249 1009,246 1009,238 1016,228 1022,216 1029,205 1040,208 1052,211 1066,204 1080,199 1086,198 1084,190 1090,180 1098,170 1104,159 1114,152 1120,145 1117,136 1104,134 1104,130 1112,125 1120,117 1136,115 1152,112 1170,110 1182,109 1194,113 1212,119 1220,118 1230,123 1238,131 1244,140 1249,150 1253,160 1258,168 1260,175 1266,184 1268,192 1273,195 1272,204 1276,210 1288,211 1300,211 1308,216 1316,215 1324,223 1334,228 1342,229 1340,236 1345,239 1346,246 1350,258 1360,259 1370,258 1380,257 1386,257 1388,252 1396,249 1406,247 1420,242 1430,241 1440,239 1442,242 1433,245 1430,250 1434,258 1428,265 1422,270 1420,280 1416,286 1415,296 1408,305 1404,312 1398,316 1397,324 1394,327 1384,324 1370,320 1360,328 1350,331 1354,340 1356,352 1355,364 1356,368 1352,380 1346,383 1338,386 1341,393 1334,387 1330,380 1325,379 1322,390 1314,395 1308,402 1300,404 1284,405 1282,407 1289,416 1286,421 1280,418 1264,417 1257,411 1254,412 1248,422 1240,430 1230,433 1226,438 1212,444 1204,450 1196,458 1184,462 1172,464 1160,470 1152,476 1140,480 1132,484 1128,487 1127,484 1134,480 1138,474 1130,469 1134,464 1140,458 1148,450 1152,444 1150,438 1144,434 1130,435 1122,440 1114,446 1104,452 1098,456 1090,461 1086,468 1080,474 1074,478 1069,482 1064,478 1058,477 1054,484 1050,490 1053,497 1060,501 1068,504 1076,503 1082,508 1086,513 1080,518 1080,523 1088,528 1096,528 1102,522 1108,515 1120,512 1128,516 1136,519 1148,519 1163,521 1160,530 1158,536 1148,534 1136,538 1128,542 1120,548 1112,555 1106,560 1100,566 1092,572 1088,580 1085,586 1092,592 1100,596 1108,602 1112,612 1118,624 1122,634 1126,644 1136,654 1142,660 1146,664 1147,672 1140,670 1132,673 1142,677 1148,680 1146,688 1138,690 1130,695 1126,699 1132,700 1140,704 1146,712 1148,720 1146,730 1142,738 1140,748 1132,756 1126,764 1120,770 1118,778 1110,786 1106,792 1102,798 1096,806 1095,818 1098,824 1092,829 1084,834 1080,840 1074,846 1066,852 1060,856 1054,862 1048,868 1042,874 1036,878 1030,884 1024,890 1016,893 1008,894 1002,898 994,895 990,898 984,898 980,901 976,907 968,908 964,904 960,900 958,910 952,914 948,916 944,920 940,926 934,924 924,923 916,926 908,928 900,931 893,934 890,936 883,939 883,944 888,948 891,956 886,960 877,960 874,952 871,946 872,936 875,930 870,929 858,930 852,927 846,924 837,928 830,925 820,926 812,918 805,916 801,906 806,896 798,893 788,892 778,888 773,880 766,884 756,894 746,896 742,902 734,899 728,896 720,902 710,896 704,902 692,904 689,912 693,920 694,937 688,934 682,936 678,921 668,926 657,928 653,920 654,915 644,912 635,911 640,904 639,898 642,890 630,886 628,876 624,868 628,861 612,862 599,866 603,860 600,854 599,846 603,842 604,834 606,834 612,828 618,820 623,818 622,810 625,802 625,786 623,770 618,772 613,769 612,757 603,752 599,749 595,756 594,762 588,768 580,763 568,757 560,755 552,758 548,764 536,770 525,773 520,778 515,787 506,790 488,790 477,791 474,777 465,773 465,766 458,761 454,765 450,762 438,759 424,757 416,762 409,772 410,778 407,782 401,777 404,770 403,762 398,760 378,766 366,767 354,759 350,763 344,758 340,764 332,754 320,754 321,746 310,746 299,738 298,729 286,732 278,724 266,716 254,709 252,703 237,700 232,711 227,705 218,700 204,695 192,684 182,684 177,676 176,664 171,656 169,646 176,643 182,651 189,644 185,628 176,618 175,607" fill="none" stroke="#555" stroke-width="1.1" stroke-linejoin="round"/>
<polyline points="482,478 498,477 498.8,478.5 500.2,481.5 501,483 502.6,483.2 505.9,483.8 509.1,484.2 512.4,484.8 514,485 515,488 518,487.8 519.5,487.6 522.5,487.4 524,487.2 527,487 527.7,488.7 528.3,490.3 529.7,493.7 530.3,495.3 531,497 532.5,496.8 534,496.7 537,496.3 538.5,496.2 540,496 541.7,496.5 543.3,497 546.7,498 548.3,498.5 550,499 558,497 559.7,498 561.3,499 564.7,501 566.3,502 568,503 569.7,502.3 571.3,501.7 574.7,500.3 576.3,499.7 578,499 578.5,497.2 579.5,493.8 580,492 581.8,491.2 585.2,489.8 587,489 586.7,487.5 586.3,486 585.7,483 585.3,481.5 585,480 587,477 596,477 600,479 601.5,479.8 604.5,481.2 607.5,482.8 610.5,484.2 612,485 620,490 621.7,491 623.3,492 626.7,494 628.3,495 630,496 631.6,496.7 633.1,497.3 634.7,498 636.2,498.7 637.8,499.3 639.3,500" fill="none" stroke="#5a5a5a" stroke-width="1" stroke-linejoin="round"/>
<polyline points="574,386 566,390 564,396 567,400 566.2,401.5 564.8,404.5 564,406 548,414 545,411 530,420 528.5,421.2 525.5,423.8 522.5,426.2 519.5,428.8 518,430 514,438 512.4,438.3 510.8,438.7 507.7,439.3 506.1,439.7 502.9,440.3 501.3,440.7 498.2,441.3 496.6,441.7 495,442 494.6,443.6 494.1,445.1 493.7,446.7 493.2,448.2 492.8,449.8 492.3,451.3 491.9,452.9 491.4,454.4 491,456 490.8,457.5 490.2,460.5 489.8,463.5 489.2,466.5 489,468 484.3,474.7 482,478 480.4,478.6 478.9,479.1 474.1,480.9 472.6,481.4 469.4,482.6 467.9,483.1 463.1,484.9 461.6,485.4 460,486 458.5,486.5 456.9,487.1 455.4,487.6 453.8,488.2 450.8,489.2 449.2,489.8 446.2,490.8 444.6,491.4 443.1,491.9 441.5,492.5 440,493 432,495 433,496.7 434,498.3 435,500 436.7,499.3 438.3,498.7 440,498 441,514 442.6,514.6 444.1,515.1 448.9,516.9 450.4,517.4 452,518 452.7,519.6 453.3,521.1 454,522.7 454.7,524.2 455.3,525.8 456,527.3 456.7,528.9 457.3,530.4 458,532 455,533.2 453.5,533.9 450.5,535.1 449,535.8 446,537 445.7,538.7 445.3,540.3 445,542 453,548 453,553 444,556 432,552 428,556 420,557" fill="none" stroke="#5a5a5a" stroke-width="1" stroke-linejoin="round"/>
<polyline points="182,599 190,597 191.7,596.8 193.3,596.7 196.7,596.3 198.3,596.2 200,596 200.7,594.3 201.3,592.7 202.7,589.3 203.3,587.7 204,586 210,578 210.7,576.3 211.3,574.7 212,573 215,573.2 216.5,573.4 219.5,573.6 221,573.8 224,574 225.6,574.3 227.1,574.7 230.2,575.3 231.8,575.7 234.9,576.3 236.4,576.7 238,577 241,576.2 242.5,575.9 245.5,575.1 247,574.8 250,574 258,566 270,566 270.8,567.5 272.2,570.5 273,572 274.5,572.3 276,572.7 279,573.3 280.5,573.7 282,574 298,573 301,571.8 302.5,571.1 305.5,569.9 307,569.2 310,568 316.7,566 320,565 321.7,565.2 323.3,565.3 326.7,565.7 328.3,565.8 330,566 331.7,565.3 333.3,564.7 336.7,563.3 338.3,562.7 340,562 344,554 350,552 354.6,551.1 359.2,550.2 360.8,549.8 363.8,549.2 368.5,548.3 370,548 376,547.2 377.5,547.1 386.5,545.9 388,545.8 394,545 410,551 422,555 430,551 434.6,551.9 439.2,552.8 440.8,553.2 443.8,553.8 448.5,554.7 450,555" fill="none" stroke="#5a5a5a" stroke-width="1" stroke-linejoin="round"/>
<polyline points="422,555 420.5,555.8 417.5,557.2 416,558 417.8,559 421.2,561 423,562 422.8,563.5 422.2,566.5 421.8,569.5 421.2,572.5 421,574 417,577 420,585 426,587 425.8,588.6 425.2,591.9 424.8,595.1 424.2,598.4 424,600 421,608 422,607 423.1,608.6 424.3,610.1 425.4,611.7 426.6,613.3 427.7,614.9 428.9,616.4 430,618 431.7,619.3 433.3,620.7 436.7,623.3 438.3,624.7 440,626 441.7,626.8 443.3,627.7 446.7,629.3 448.3,630.2 450,631 456,632.2 457.5,632.6 466.5,634.4 468,634.8 474,636 475.6,636.4 477.1,636.9 478.7,637.3 480.2,637.8 481.8,638.2 483.3,638.7 484.9,639.1 486.4,639.6 488,640 500,644 506.2,644.4 507.8,644.6 514,645 528,645 534,643 535.6,644 537.1,645 541.9,648 543.4,649 545,650 550,658 554,666 555.5,665.8 558.5,665.2 560,665 561.8,666.2 565.2,668.8 567,670 568,662 574,662 580,668 582,660 583.6,659.4 585.1,658.9 589.9,657.1 591.4,656.6 593,656 593.4,654.4 593.9,652.9 595.1,648.1 595.6,646.6 596,645" fill="none" stroke="#5a5a5a" stroke-width="1" stroke-linejoin="round"/>
<polyline points="596,645 595.7,643.5 595.3,642 594.7,639 594.3,637.5 594,636 595.2,633 595.9,631.5 597.1,628.5 597.8,627 599,624 595,612 601,604 606,604 607.6,604.4 609.1,604.9 613.9,606.1 615.4,606.6 617,607 617.7,608.6 618.4,610.1 619.1,611.7 619.9,613.3" fill="none" stroke="#5a5a5a" stroke-width="1" stroke-linejoin="round"/>
<polyline points="596,645 599,645.8 600.5,646.1 603.5,646.9 605,647.2 608,648 609.8,649.5 613.2,652.5 615,654 619,662 620,665" fill="none" stroke="#5a5a5a" stroke-width="1" stroke-linejoin="round"/>
<polyline points="619.7,758 618,758 616.8,756.5 614.2,753.5 613,752 612.7,753.7 612.3,755.3 612,757" fill="none" stroke="#5a5a5a" stroke-width="1" stroke-linejoin="round"/>
<polyline points="769,414.4 770,416" fill="none" stroke="#5a5a5a" stroke-width="1" stroke-linejoin="round"/>
<polyline points="590,385 590.8,386.5 591.6,388.1 593.2,391.1 593.9,392.6 594.7,394.2 597.1,398.7 597.9,400.3 600.3,404.8 601.1,406.4 601.8,407.9 603.4,410.9 604.2,412.5 605,414 603.3,415.3 601.7,416.7 600,418 616,432 617,440 618.7,438.7 620.3,437.3 622,436 628,438 634,434 642,433 645,432.8 646.5,432.6 649.5,432.4 651,432.2 654,432 658,438 657.8,439.6" fill="none" stroke="#5a5a5a" stroke-width="1" stroke-linejoin="round"/>
<polyline points="872,480 880,476 880.2,474.5 880.8,471.5 881,470 882.8,470.8 886.2,472.2 888,473 891,471.8 892.5,471.1 895.5,469.9 897,469.2 900,468 904,470 910,466 914.7,465.1 916.3,464.9 921,464 924,456 925.5,454.2 928.5,450.8 930,449 938,451 942,448 943.5,447.8 945.1,447.5 948.2,447.1 949.7,446.8 954.3,446.2 955.8,445.9 958.9,445.5 960.5,445.2" fill="none" stroke="#5a5a5a" stroke-width="1" stroke-linejoin="round"/>
<polyline points="968,440.3 969.5,439.2 971,438 969.2,435 968.4,433.5 966.6,430.5 965.8,429 964,426 968,414 968.3,412.3 968.7,410.7 969.3,407.3 969.7,405.7 970,404 971.7,403.7 973.3,403.3 976.7,402.7 978.3,402.3 980,402 986,402 986.2,403.5 986.8,406.5 987.2,409.5 987.8,412.5 988,414 991,414.2 992.5,414.4 995.5,414.6 997,414.8 1000,415" fill="none" stroke="#5a5a5a" stroke-width="1" stroke-linejoin="round"/>
<polyline points="904,470 903.3,471.7 902.7,473.3 901.3,476.7 900.7,478.3 900,480" fill="none" stroke="#5a5a5a" stroke-width="1" stroke-linejoin="round"/>
<polyline points="971,438 974,440" fill="none" stroke="#5a5a5a" stroke-width="1" stroke-linejoin="round"/>
<polyline points="900,480 896,492 890,500 892,516 891.6,517.6 891.1,519.1 890.7,520.7 890.2,522.2 889.8,523.8 889.3,525.3 888.9,526.9 888.4,528.4 888,530 890,546 890,559.8" fill="none" stroke="#5a5a5a" stroke-width="1" stroke-linejoin="round"/>
<polyline points="920.4,586.7 922,586 924,578 940,576" fill="none" stroke="#5a5a5a" stroke-width="1" stroke-linejoin="round"/>
<polyline points="920,646 921.7,646.7 923.3,647.3 926.7,648.7 928.3,649.3 930,650 939.6,651.2" fill="none" stroke="#5a5a5a" stroke-width="1" stroke-linejoin="round"/>
<polyline points="939.5,664.5 938,666 930,672 928.3,672.7 926.7,673.3 923.3,674.7 921.7,675.3 920,676 920.3,677.7 920.7,679.3 921.3,682.7 921.7,684.3 922,686 921,687.7 920,689.3" fill="none" stroke="#5a5a5a" stroke-width="1" stroke-linejoin="round"/>
<polyline points="1136,115 1137.5,116.2 1140.5,118.8 1142,120 1138,126 1130,134 1138,138 1144,142 1152,137 1158.7,141.7 1162,144 1162.3,145.7 1162.7,147.3 1163.3,150.7 1163.7,152.3 1164,154 1164.7,155.7 1165.3,157.3 1166.7,160.7 1167.3,162.3 1168,164 1174,168 1175.7,167.7 1177.3,167.3 1180.7,166.7 1182.3,166.3 1184,166 1200,165 1203,164.8 1204.5,164.6 1207.5,164.4 1209,164.2 1212,164 1220,159 1221.7,160.5 1223.3,162 1226.7,165 1228.3,166.5 1230,168 1238,176 1232,180" fill="none" stroke="#5a5a5a" stroke-width="1" stroke-linejoin="round"/>
<polyline points="1180.2,251.6 1178.7,252.7 1177.1,253.8 1175.6,254.9 1174,256 1172.4,256.9 1170.9,257.8 1169.3,258.7 1167.8,259.6 1166.2,260.4 1164.7,261.3 1163.1,262.2 1161.6,263.1 1160,264 1158.7,265.7 1157.3,267.3 1156,269 1162.7,273.7 1166,276 1168,284 1170,288 1172,296 1166,300 1165.7,301.5 1165.3,303 1164.7,306 1164.3,307.5 1164,309 1158,305 1156.5,305.8 1153.5,307.2 1152,308 1150.3,307.2 1148.7,306.3 1145.3,304.7 1143.7,303.8 1142,303 1141.3,304.7 1140.7,306.3 1140,308 1141.8,309 1145.2,311 1147,312 1150,320 1149.6,326.2 1149.4,327.8 1149,334 1150.2,337.2 1150.9,338.9 1152.1,342.1 1152.8,343.8 1154,347 1162,346 1163.7,345.2 1165.3,344.3 1168.7,342.7 1170.3,341.8 1172,341 1172.7,342.5 1173.3,344 1174.7,347 1175.3,348.5 1176,350 1177.2,353 1177.9,354.5 1179.1,357.5 1179.8,359" fill="none" stroke="#5a5a5a" stroke-width="1" stroke-linejoin="round"/>
<polyline points="1170,288 1170,284 1179.8,284" fill="none" stroke="#5a5a5a" stroke-width="1" stroke-linejoin="round"/>
<polyline points="1180.5,279 1176,279 1168,284" fill="none" stroke="#5a5a5a" stroke-width="1" stroke-linejoin="round"/>
<polyline points="1174,296 1190,295 1194,310 1200,316 1203,315.8 1204.5,315.6 1207.5,315.4 1209,315.2 1212,315 1215,315.2 1216.5,315.2 1225.5,315.8 1227,315.8 1230,316 1232,322 1240,324 1248,322 1249.7,322.7 1251.3,323.3 1254.7,324.7 1256.3,325.3 1258,326 1258.3,327.7 1258.7,329.3 1259.3,332.7 1259.7,334.3 1260,336 1268,340 1268.3,341.7 1268.7,343.3 1269.3,346.7 1269.7,348.3 1270,350 1278,352 1284,346 1282.5,345.2 1281,344.3 1278,342.7 1276.5,341.8 1273.5,340.2 1272,339.3 1269,337.7 1267.5,336.8 1264.5,335.2 1263,334.3 1260,332.7 1258.5,331.8 1255.5,330.2 1254,329.3 1251,327.7 1249.5,326.8 1246.5,325.2 1245,324.3 1242,322.7 1240.5,321.8 1237.5,320.2 1236,319.3 1233,317.7 1231.5,316.8 1230,316 1231.7,317.3 1233.3,318.7 1236.7,321.3 1238.3,322.7 1240,324 1241.5,323.8 1244.5,323.2 1254,322 1255.2,323.5 1257.8,326.5 1259,328 1259.2,329.5 1259.3,331 1259.7,334 1259.8,335.5 1260,337 1268,338 1272,344 1278,352 1288,342 1292,346 1296,354 1296.7,355.7 1297.3,357.3 1298.7,360.7 1299.3,362.3 1300,364 1308,364 1308.7,362.3 1309.3,360.7 1310,359 1311.7,358.5 1313.3,358 1316.7,357 1318.3,356.5 1320,356 1328,356 1334,352 1336,358 1344,364 1352,367 1355,364" fill="none" stroke="#5a5a5a" stroke-width="1" stroke-linejoin="round"/>
<polyline points="1227,419.5 1230,424 1230,433" fill="none" stroke="#5a5a5a" stroke-width="1" stroke-linejoin="round"/>
<polyline points="1180,360 1179.1,364.6 1178.2,369.2 1177.8,370.8 1177.2,373.8 1176.3,378.5 1176,380 1164,384 1162.5,384.2 1159.5,384.8 1156.5,385.2 1153.5,385.8 1152,386 1150.5,386.8 1147.5,388.2 1144.5,389.8 1141.5,391.2 1140,392 1138.4,392.7 1136.9,393.3 1135.3,394 1133.8,394.7 1132.2,395.3 1130.7,396 1129.1,396.7 1127.6,397.3 1126,398 1120,400 1112,403 1110.8,404.5 1109.7,406 1107.3,409 1106.2,410.5 1105,412 1100,404 1098.7,402.5 1097.3,401 1094.7,398 1093.3,396.5 1092,395 1086,399 1086.9,403.7 1087.1,405.3 1088,410 1088,418 1084,422 1083,423.7 1082,425.3 1080,428.7 1079,430.3 1078,432 1079.3,433.7 1080.7,435.3 1082,437 1088,439 1088.9,440.5 1089.8,442.1 1090.7,443.6 1091.6,445.2 1092.5,446.7 1093.5,448.3 1094.4,449.8 1095.3,451.4 1096.2,452.9 1097.1,454.5 1098,456" fill="none" stroke="#5a5a5a" stroke-width="1" stroke-linejoin="round"/>
<polyline points="1084,422 1082.5,421.8 1081,421.7 1078,421.3 1076.5,421.2 1073.5,420.8 1072,420.7 1069,420.3 1067.5,420.2 1066,420 1065.8,418.5 1065.2,415.5 1064.8,412.5 1064.2,409.5 1064,408 1063.2,406.5 1061.8,403.5 1060.2,400.5 1058.8,397.5 1058,396 1056.5,394.2 1053.5,390.8 1052,389 1049,389.8 1047.5,390.1 1044.5,390.9 1043,391.2 1040,392 1032,392 1031,400 1029.4,400.9 1027.9,401.7 1026.3,402.6 1024.7,403.4 1023.1,404.3 1021.6,405.1 1020,406 1018.3,406.3 1016.7,406.7 1013.3,407.3 1011.7,407.7 1010,408 1008.5,408.8 1005.5,410.2 1002.5,411.8 999.5,413.2" fill="none" stroke="#5a5a5a" stroke-width="1" stroke-linejoin="round"/>
<polyline points="977.3,439.3 977.7,442.7 977.8,444.3 978,446 972,448 968,454 976,458 980,466 972,474 964,480" fill="none" stroke="#5a5a5a" stroke-width="1" stroke-linejoin="round"/>
<polyline points="1008,440 1009.7,439.3 1011.3,438.7 1014.7,437.3 1016.3,436.7 1018,436 1022,430 1030,430 1031.7,431.5 1033.3,433 1036.7,436 1038.3,437.5 1040,439 1040.3,440.5 1040.7,442 1041.3,445 1041.7,446.5 1042,448 1044,452 1040,458 1036,466 1030,466 1024,468 1016,466 1008,468 1006.7,466.3 1005.3,464.7 1002.7,461.3 1001.3,459.7 1000,458 1001,456.3 1002,454.7 1004,451.3 1005,449.7 1006,448 1008,440" fill="none" stroke="#5a5a5a" stroke-width="1" stroke-linejoin="round"/>
<polyline points="1042,448 1048,454 1046,460 1047.3,461.7 1048.7,463.3 1051.3,466.7 1052.7,468.3 1054,470 1055,471.8 1057,475.2 1058,477" fill="none" stroke="#5a5a5a" stroke-width="1" stroke-linejoin="round"/>
<polyline points="1036,466 1032,468 1029,476 1029.4,479.2" fill="none" stroke="#5a5a5a" stroke-width="1" stroke-linejoin="round"/>
<polyline points="640,489.3 648,493.3 649.5,494.4 651.1,495.5 654.2,497.8 655.8,498.9 657.3,500 655.3,496.6 654.3,495 653.3,493.3 661.3,497.3 662.8,498 664.3,498.6 670.3,501.4 671.8,502 673.3,502.7 674.6,504.5 676,506.2 677.3,508 678.9,508.7 680.4,509.3 683.6,510.7 685.1,511.3 686.7,512 688.2,512.7 689.7,513.3 691.2,514 692.7,514.6 695.7,516 697.2,516.6 698.7,517.3 702.7,521.3 704.2,522.4 707.4,524.6 708.9,525.8 710.5,526.9 712,528 710.6,530 709.3,532 710.4,533.5 711.5,535.1 713.8,538.2 714.9,539.8 716,541.3 716.7,542.8 717.3,544.3 718,545.8 718.6,547.3 720,550.3 720.6,551.8 721.3,553.3 720.4,555.1 719.6,556.9 718.7,558.7 717.4,560.4" fill="none" stroke="#5a5a5a" stroke-width="1" stroke-linejoin="round"/>
<polyline points="694.7,478.7 698,477.7 701.4,476.7 703,476.2 704.7,475.7 706.3,475.2 708,474.7 709.5,475 711,475.4 717,476.6 718.5,477 720,477.3 721.5,476.5 723.1,475.8 724.6,475 726.1,474.3 727.6,473.5 729.2,472.8 730.7,472 733.9,471.6 735.6,471.3 740.4,470.7 742.1,470.4 745.3,470 745.8,471.7 746.4,473.5 746.9,475.2 747.5,477 748,478.7 747,480.4 745,483.6 744,485.3 742.2,487.1 740.5,488.9 738.7,490.7 737.1,491.8 735.5,492.8 733.9,493.9 732.3,494.9 730.7,496 731.1,497.8 731.6,499.5 732,501.3 730.4,503.3 728.7,505.3 729.4,507.1 730,508.9 730.7,510.7 732.3,511.8 733.9,512.8 735.5,513.9 737.1,514.9 738.7,516 740.2,516.9 741.8,517.8 743.4,518.6 744.9,519.5 746.5,520.4 748,521.3 752,521.3 760,517.3 761.7,517.1 763.3,517 766.6,516.6 768.3,516.5 770,516.3 771.6,516.2 773.3,516 774.9,515.3 776.4,514.7 779.6,513.3 781.1,512.7 782.7,512 783.1,510.4 783.6,508.9 784.4,505.8 784.9,504.2 785.3,502.7 785.1,501.2 785,499.7 784.6,496.7 784.5,495.2 784.3,493.7 784.2,492.2 784,490.7 784.5,489.1 785.1,487.5 785.6,485.9 786.2,484.3 786.7,482.7 789.3,479.5 790.7,477.9 793.3,474.7 794.9,474.2 796.5,473.6 798.1,473.1 799.7,472.5 801.3,472 802.9,472.9 804.4,473.8 806,474.7" fill="none" stroke="#5a5a5a" stroke-width="1" stroke-linejoin="round"/>
<polyline points="756,521.3 757.3,523.1 758.7,524.9 760,526.7 761.7,528.4 763.4,530 766.7,533.3 767.6,534.8 768.6,536.4 769.5,537.9 770.5,539.4 771.4,540.9 772.4,542.5 773.3,544 774,545.7 774.6,547.4 775.3,549 776,550.7 775.1,552.5 774.2,554.2 773.3,556 774,557.5 774.6,559.1 775.3,560.6" fill="none" stroke="#5a5a5a" stroke-width="1" stroke-linejoin="round"/>
<polyline points="808.4,560.5 809.3,558.7 808.9,556.9 808.4,555.1 808,553.3 800,549.3 799.1,547.5 798.2,545.8 797.3,544 797.8,542.4 798.4,540.8 798.9,539.2 799.5,537.6 800,536 801.4,532.6 802,531 802.7,529.3 812,529.3 813.7,529 815.4,528.6 818.7,528 818.1,524.8 817.9,523.2 817.3,520 819.1,518.2 820.9,516.5 822.7,514.7 824.3,515.4 825.8,516.2 830.6,518.3 832.1,519.1 836.9,521.2 838.4,522 840,522.7" fill="none" stroke="#5a5a5a" stroke-width="1" stroke-linejoin="round"/>
<polyline points="806,474.7 807.1,476.5 808.2,478.2 809.3,480 808.2,481.6 807.2,483.2 806.1,484.8 805.1,486.4 804,488 803.2,489.5 802.5,491.1 801.7,492.6 801,494.1 800.2,495.6 799.5,497.2 798.7,498.7 801.9,499.7 803.5,500.3 806.7,501.3 808.4,502 810,502.6 811.6,503.3 813.3,504 814.9,505.1 816.5,506.1 818.1,507.2 819.7,508.2 821.3,509.3 822.9,509.9 824.4,510.4 826,511 827.5,511.5 829.1,512.1 830.6,512.6 833.8,513.8 835.3,514.3 836.9,514.9 838.4,515.4 840,516" fill="none" stroke="#5a5a5a" stroke-width="1" stroke-linejoin="round"/>
<polyline points="672,602 672.7,603.5 673.3,605 674.7,608 675.3,609.5 676.7,612.5 677.3,614 678.7,617 679.3,618.5 680,620 674,636 668,644 669.5,643.2 672.5,641.8 675.5,640.2 678.5,638.8 680,638 678,630 679.7,629.3 681.3,628.7 684.7,627.3 686.3,626.7 688,626 696,626 694,618 702,618 702.3,616.3 702.7,614.7 703.3,611.3 703.7,609.7 704,608 705.6,607.3 707.1,606.7 708.7,606 710.2,605.3 711.8,604.7 713.3,604 714.9,603.3 716.4,602.7 718,602 724,608 726,616 736,616 737.7,616.7 739.3,617.3 742.7,618.7 744.3,619.3 746,620 747,621.7 748,623.3 750,626.7 751,628.3 752,630 752,636 758,640 766,644 778,636 786,634 792,638 793.7,638.7 795.3,639.3 798.7,640.7 800.3,641.3 802,642 812,642 820,648 821.5,648.8 824.5,650.2 827.5,651.8 830.5,653.2 832,654 840,650 841.7,651.3 843.3,652.7 846.7,655.3 848.3,656.7 850,658 851.7,659 853.3,660 856.7,662 858.3,663 860,664 861.7,664.3 863.3,664.7 866.7,665.3 868.3,665.7 870,666 871.7,667 873.3,668 876.7,670 878.3,671 880,672 880.3,673.7 880.7,675.3 881.3,678.7 881.7,680.3 882,682 878,688 854,696 852.3,696.3 850.7,696.7 847.3,697.3 845.7,697.7 844,698 838,700" fill="none" stroke="#5a5a5a" stroke-width="1" stroke-linejoin="round"/>
<polyline points="838,700 836.3,700.7 834.7,701.3 831.3,702.7 829.7,703.3 828,704 820,698 819.3,699.7 818.7,701.3 817.3,704.7 816.7,706.3 816,708 814.3,708.3 812.7,708.7 809.3,709.3 807.7,709.7 806,710 800,716 794,720 794.3,721.7 794.7,723.3 795.3,726.7 795.7,728.3 796,730 796.7,731.7 797.3,733.3 798.7,736.7 799.3,738.3 800,740 796,744 784,740 780,746 794,760 796,768 808,780 814,778 824,778 830,772 846,774 852,780 853.7,778.7 855.3,777.3 858.7,774.7 860.3,773.3 862,772 862.2,769 862.4,767.5 862.6,764.5 862.8,763 863,760 862.8,756.9 862.8,755.4 862.5,750.8 862.5,749.2 862.2,744.6 862.2,743.1 862,740 860,732 858,726 844,712 844,698" fill="none" stroke="#5a5a5a" stroke-width="1" stroke-linejoin="round"/>
<polyline points="796,768 794.5,768.2 791.5,768.8 788.5,769.2 785.5,769.8 784,770 782.3,768.7 780.7,767.3 777.3,764.7 775.7,763.3 774,762 766,760 760,766 752,760 751.7,758.3 751.3,756.7 750.7,753.3 750.3,751.7 750,750 748.3,749.3 746.7,748.7 743.3,747.3 741.7,746.7 740,746 732,758 731.3,759.7 730.7,761.3 729.3,764.7 728.7,766.3 728,768 726.7,769.7 725.3,771.3 722.7,774.7 721.3,776.3 720,778 719.7,779.7 719.3,781.3 718.7,784.7 718.3,786.3 718,788 722,800 716,804 714.5,804.2 711.5,804.8 708.5,805.2 705.5,805.8 704,806 696,812 695.1,810.4 694.2,808.9 693.3,807.3 692.4,805.8 691.6,804.2 690.7,802.7 689.8,801.1 688.9,799.6 688,798 687.2,796.5 685.8,793.5 684.2,790.5 682.8,787.5 682,786 681.1,784.4 680.2,782.9 679.3,781.3 678.4,779.8 677.6,778.2 676.7,776.7 675.8,775.1 674.9,773.6 674,772 668,764 660,768" fill="none" stroke="#5a5a5a" stroke-width="1" stroke-linejoin="round"/>
<polyline points="734,786 740,780 748,776 752,778 760,774 768,776 772,770 774,762" fill="none" stroke="#5a5a5a" stroke-width="1" stroke-linejoin="round"/>
<polyline points="734,786 735,787.7 736,789.3 738,792.7 739,794.3 740,796 748,792 749.7,793 751.3,794 754.7,796 756.3,797 758,798 754,806 753.6,807.6 753.1,809.1 752.7,810.7 752.2,812.2 751.8,813.8 751.3,815.3 750.9,816.9 750.4,818.4 750,820 760,830 759.7,831.7 759.3,833.3 758.7,836.7 758.3,838.3 758,840 754,848 754.8,849.5 756.2,852.5 757.8,855.5 759.2,858.5 760,860" fill="none" stroke="#5a5a5a" stroke-width="1" stroke-linejoin="round"/>
<polyline points="862,772 878,760 878.7,758.3 879.3,756.7 880.7,753.3 881.3,751.7 882,750 882.4,748.4 882.9,746.9 883.3,745.3 883.8,743.8 884.2,742.2 884.7,740.7 885.1,739.1 885.6,737.6 886,736 884.7,734.3 883.3,732.7 880.7,729.3 879.3,727.7 878,726 876.3,725.3 874.7,724.7 871.3,723.3 869.7,722.7 868,722 866.7,723.7 865.3,725.3 862.7,728.7 861.3,730.3 860,732" fill="none" stroke="#5a5a5a" stroke-width="1" stroke-linejoin="round"/>
<polyline points="862,772 862.8,773.5 864.2,776.5 865.8,779.5" fill="none" stroke="#5a5a5a" stroke-width="1" stroke-linejoin="round"/>
<polyline points="886,736 887.6,737.3 889.1,738.7 890.7,740 895.3,744 896.9,745.3 898.4,746.7 900,748 894,756 894.2,757.5 894.8,760.5 895.2,763.5 895.8,766.5 896,768 900,776 912,780" fill="none" stroke="#5a5a5a" stroke-width="1" stroke-linejoin="round"/>
<polyline points="882,682 881.7,680.3 881.3,678.7 880.7,675.3 880.3,673.7 880,672 878.3,671 876.7,670 873.3,668 871.7,667 870,666" fill="none" stroke="#5a5a5a" stroke-width="1" stroke-linejoin="round"/>
<polyline points="880,672 881.7,670.7 883.3,669.3 886.7,666.7 888.3,665.3 890,664 898,664 900,670 901.5,669.2 903.1,668.5 904.6,667.7 906.2,666.9 907.7,666.2 909.2,665.4 910.8,664.6 912.3,663.8 913.8,663.1 915.4,662.3 916.9,661.5 918.5,660.8 920,660" fill="none" stroke="#5a5a5a" stroke-width="1" stroke-linejoin="round"/>
<polyline points="798,612 804,616 812,612 813.6,612.4 815.1,612.9 816.7,613.3 818.2,613.8 819.8,614.2 821.3,614.7 822.9,615.1 824.4,615.6 826,616 834,614" fill="none" stroke="#5a5a5a" stroke-width="1" stroke-linejoin="round"/>
<polyline points="798,612 798,598 798.2,596.5 798.3,595 798.7,592 798.8,590.5 799.2,587.5 799.3,586 799.7,583 799.8,581.5 800,580 796,576 804,570 804.7,568.3 805.3,566.7 806.7,563.3 807.3,561.7 808,560" fill="none" stroke="#5a5a5a" stroke-width="1" stroke-linejoin="round"/>
<polyline points="782,624 786,624 792,620 798,612" fill="none" stroke="#5a5a5a" stroke-width="1" stroke-linejoin="round"/>
<polyline points="1052,480 1051.8,481.7 1051.7,483.3 1051.3,486.7 1051.2,488.3 1051,490 1056,498 1044,510 1040.9,510.4 1039.3,510.7 1034.7,511.3 1033.1,511.6 1030,512 1028.3,513 1026.7,514 1023.3,516 1021.7,517 1020,518 1018.3,519.3 1016.7,520.7 1013.3,523.3 1011.7,524.7 1010,526 1009,527.7 1008,529.3 1006,532.7 1005,534.3 1004,536 997,544 999,550 997.3,551.3 995.7,552.7 994,554 1000,558 1000,564 988,580 992,586 1004,594 1019,594 1022,586 1023.7,586.3 1025.3,586.7 1028.7,587.3 1030.3,587.7 1032,588 1038,596 1039.7,596.7 1041.3,597.3 1044.7,598.7 1046.3,599.3 1048,600 1049.5,599.8 1052.5,599.2 1055.5,598.8 1058.5,598.2 1060,598 1068,592 1076,584 1077.5,584.3 1079,584.7 1082,585.3 1083.5,585.7 1085,586" fill="none" stroke="#5a5a5a" stroke-width="1" stroke-linejoin="round"/>
<polyline points="956,540 957.7,541.3 959.3,542.7 962.7,545.3 964.3,546.7 966,548 967.6,548.4 969.1,548.9 970.7,549.3 972.2,549.8 973.8,550.2 975.3,550.7 976.9,551.1 978.4,551.6 980,552 983.1,552.4 984.7,552.7 989.3,553.3 990.9,553.6 994,554" fill="none" stroke="#5a5a5a" stroke-width="1" stroke-linejoin="round"/>
<polyline points="956,540 957.7,539.3 959.3,538.7 962.7,537.3 964.3,536.7 966,536 970,520 966,504 965.1,502.4 964.2,500.9 963.3,499.3 962.4,497.8 961.6,496.2 960.7,494.7 959.8,493.1 958.9,491.6 958,490 959,488.3 960,486.7 962,483.3 963,481.7 964,480" fill="none" stroke="#5a5a5a" stroke-width="1" stroke-linejoin="round"/>
<polyline points="1019,594 1020.2,595.7 1021.3,597.3 1023.7,600.7 1024.8,602.3 1026,604 1028,612 1022,618 1020.3,617 1018.7,616 1015.3,614 1013.7,613 1012,612 1006,608 998,624 996.3,625.3 994.7,626.7 991.3,629.3 989.7,630.7 988,632 989,633.7 990,635.3 992,638.7 993,640.3 994,642 1010,646 1010.4,652.2 1010.6,653.8 1011,660 1009.8,661.5 1007.2,664.5 1006,666 998,674 1000,676 1001.6,676.9 1003.1,677.8 1004.7,678.7 1006.2,679.6 1007.8,680.4 1009.3,681.3 1010.9,682.2 1012.4,683.1 1014,684 1010,688 1009.8,689.5 1009.2,692.5 1009,694 1010.2,697 1010.9,698.5 1012.1,701.5 1012.8,703 1014,706 1014.3,707.7 1014.7,709.3 1015.3,712.7 1015.7,714.3 1016,716 1022,712 1030,710 1028,718 1034,720 1038,714 1044,716 1048,724 1044,732 1046,740 1052,756 1060,760 1068,752 1064,740 1063.3,738.3 1062.7,736.7 1061.3,733.3 1060.7,731.7 1060,730 1061.7,729.5 1063.3,729 1066.7,728 1068.3,727.5 1070,727 1078,728 1084,734 1088,728 1089.7,726.7 1091.3,725.3 1094.7,722.7 1096.3,721.3 1099.7,718.7 1101.3,717.3 1104.7,714.7 1106.3,713.3 1116,706 1110,700 1116,696 1117.3,694.3 1118.7,692.7 1121.3,689.3 1122.7,687.7 1124,686 1126,680 1127.5,678.2 1130.5,674.8 1132,673" fill="none" stroke="#5a5a5a" stroke-width="1" stroke-linejoin="round"/>
<polyline points="1026,604 1044,616 1056,628 1052,634 1060,638 1061.7,639.3 1063.3,640.7 1066.7,643.3 1068.3,644.7 1070,646 1072,654 1068,658 1076,670 1076,676 1080,680 1081.5,680.2 1084.5,680.8 1087.5,681.2 1090.5,681.8 1092,682 1091.7,683.7 1091.3,685.3 1090.7,688.7 1090.3,690.3 1090,692 1091.7,692.3 1093.3,692.7 1096.7,693.3 1098.3,693.7 1100,694 1101.7,695 1103.3,696 1106.7,698 1108.3,699 1110,700" fill="none" stroke="#5a5a5a" stroke-width="1" stroke-linejoin="round"/>
<polyline points="998,674 994,672 978,672 976,680 975,681.7 974,683.3 972,686.7 971,688.3 970,690 968.3,691.3 966.7,692.7 963.3,695.3 961.7,696.7 960,698 956,706 952,700 940,700" fill="none" stroke="#5a5a5a" stroke-width="1" stroke-linejoin="round"/>
<polyline points="1016,716 1006,716 1004.3,716.7 1002.7,717.3 1001,718 995.8,719.5 994,720 992.3,721 990.7,722 987.3,724 985.7,725 984,726 982.3,726.7 980.7,727.3 977.3,728.7 975.7,729.3 974,730 966,736 966.7,737.7 967.3,739.3 968.7,742.7 969.3,744.3 970,746 968.3,746.7 966.7,747.3 963.3,748.7 961.7,749.3 960,750 952,748 950.5,748.2 947.5,748.8 944.5,749.2 941.5,749.8 940,750" fill="none" stroke="#5a5a5a" stroke-width="1" stroke-linejoin="round"/>
<polyline points="1034,720 1036,726 1035.8,727.5 1035.2,730.5 1034.8,733.5 1034.2,736.5 1034,738 1040,742 1046,740" fill="none" stroke="#5a5a5a" stroke-width="1" stroke-linejoin="round"/>
<polyline points="1124,686 1130,695 1126,699" fill="none" stroke="#5a5a5a" stroke-width="1" stroke-linejoin="round"/>
<polyline points="1059.3,730.7 1060.2,732.4 1061.8,735.6 1062.7,737.3 1063.7,739 1064.7,740.6 1066.7,744 1067.3,748.6 1067.6,750.2 1068,753.3 1072,754.7 1074,756 1074.7,757.8 1075.3,759.5 1076,761.3 1077.2,765.9 1077.5,767.4 1078.7,772 1086.7,776 1088.3,774.7 1090,773.4 1093.3,770.7 1094.2,772.5 1095.1,774.2 1096,776 1097.8,777.3 1099.5,778.7 1101.3,780 1102.9,779.5 1104.4,779.1 1106,778.6 1109.1,777.8 1110.7,777.3 1111.3,779 1112,780.6 1112.7,782.3 1113.3,784" fill="none" stroke="#5a5a5a" stroke-width="1" stroke-linejoin="round"/>
<polyline points="1072,754.7 1070.2,755.1 1068.5,755.6 1066.7,756 1065.1,757.1 1063.5,758.1 1061.9,759.2 1060.3,760.2 1055.5,763.5 1053.9,764.5 1050.7,766.7 1049,766 1047.3,765.4 1045.7,764.7 1044,764 1042.7,765.7 1040,769 1038.7,770.7 1038.5,772.2 1038.2,773.8 1037.8,776.9 1037.5,778.5 1037.3,780" fill="none" stroke="#5a5a5a" stroke-width="1" stroke-linejoin="round"/>
<polyline points="1059.3,730.7 1060.8,729.4 1063.8,726.6 1065.3,725.3 1062.7,724 1061,723.7 1059.3,723.3 1057.7,723 1056,722.6 1052.7,722 1051,721.6 1049.3,721.3 1045.3,722.7 1044.7,724.7 1044,726.7 1044.6,731.2 1044.7,732.8 1045.3,737.3 1043.5,738.6 1041.8,740 1040,741.3 1036,737.3 1035.8,734.2 1035.6,732.6 1035.1,724.7 1034.9,723.1 1034.7,720 1031.3,719.4 1029.7,719 1028,718.7 1027.7,717.1 1027.5,715.5 1027.2,713.9 1027,712.3 1026.7,710.7" fill="none" stroke="#5a5a5a" stroke-width="1" stroke-linejoin="round"/>
<polyline points="780,844 786,846 792,840 800,838 806,834 810,826 816,824 820,832 828,834 832,828 838,826 846,828 847.7,826.7 849.3,825.3 852.7,822.7 854.3,821.3 856,820 864,818 868,812 874,814 878,808 884,812 892,806 900,805 901.5,805.8 904.5,807.2 906,808 908,816 911,817 910.8,818.8 910.2,822.2 910,824 904,830 900,838 908,836 908.7,837.7 909.3,839.3 910.7,842.7 911.3,844.3 912,846 913.5,845.8 916.5,845.2 919.5,844.8 922.5,844.2 924,844 923,852 920,860 919.3,861.7 918.7,863.3 917.3,866.7 916.7,868.3 916,870 910,878 909.7,879.7 909.3,881.3 908.7,884.7 908.3,886.3 908,888 900,896 894,900 895,908 889.8,909.5 888,910 884,918 876,920 875.7,921.5 875.3,923 874.7,926 874.3,927.5 874,929 871,930" fill="none" stroke="#5a5a5a" stroke-width="1" stroke-linejoin="round"/>
<polyline points="924,844 926,836 932,830 938,832 940,840 948,828 956,829 957.6,828.9 959.1,828.7 960.7,828.6 962.3,828.4 963.9,828.3 965.4,828.1 967,828 976,828 982,832 974,844 976,850 988,846 989.5,845.8 992.5,845.2 995.5,844.8 998.5,844.2 1000,844 1008,848 1008.2,846.5 1008.8,843.5 1009.2,840.5 1009.8,837.5 1010,836 1011.7,837.3 1013.3,838.7 1016.7,841.3 1018.3,842.7 1020,844 1032,848 1034,864 1034.7,865.7 1035.3,867.3 1036.7,870.7 1037.3,872.3 1038,874" fill="none" stroke="#5a5a5a" stroke-width="1" stroke-linejoin="round"/>
<polyline points="963.2,780.4 964,782 964.3,783.7 964.7,785.3 965.3,788.7 965.7,790.3 966,792 966.2,793.5 966.8,796.5 967.2,799.5 967.8,802.5 968,804 970,810 969.3,811.7 968.7,813.3 967.3,816.7 966.7,818.3 966,820 967,828" fill="none" stroke="#5a5a5a" stroke-width="1" stroke-linejoin="round"/>
<polyline points="1010,836 1014,824 1014.8,822.5 1016.2,819.5 1017.8,816.5 1019.2,813.5 1020,812 1028,788 1029.3,786.3 1030.7,784.7 1033.3,781.3 1034.7,779.7" fill="none" stroke="#5a5a5a" stroke-width="1" stroke-linejoin="round"/>
<polyline points="868,812 866,812 865.7,810.3 865.3,808.7 864.7,805.3 864.3,803.7 864,802 864.7,800.3 865.3,798.7 866.7,795.3 867.3,793.7 868,792 864.8,779.2" fill="none" stroke="#5a5a5a" stroke-width="1" stroke-linejoin="round"/>
<polyline points="755,848 760.2,846.5 762,846 770,838 778,842 779.7,842.7" fill="none" stroke="#5a5a5a" stroke-width="1" stroke-linejoin="round"/>
<polyline points="755,848 756.2,849.5 758.8,852.5 760,854 761.7,855.3 763.3,856.7 766.7,859.3 768.3,860.7 770,862 771.7,862.2 773.3,862.3 776.7,862.7 778.3,862.8 780,863 788,862 792,868 790,876 788.3,876.7 786.7,877.3 783.3,878.7 781.7,879.3 780,880 773,880" fill="none" stroke="#5a5a5a" stroke-width="1" stroke-linejoin="round"/>
<polyline points="1165,849.3 1158,878.7" fill="none" stroke="#555" stroke-width="1" stroke-linejoin="round"/>
<polyline points="1145.3,923 1128.5,946" fill="none" stroke="#555" stroke-width="1" stroke-linejoin="round"/>
<polyline points="1103,991 1090,1017" fill="none" stroke="#555" stroke-width="1" stroke-linejoin="round"/>
<polyline points="1081.4,1066.8 1081.4,1094.9" fill="none" stroke="#555" stroke-width="1" stroke-linejoin="round"/>
<polyline points="1079.6,1170.5 1075.2,1184.7 1069.2,1198.5" fill="none" stroke="#555" stroke-width="1" stroke-linejoin="round"/>
<polyline points="1018.6,1273.1 1010.2,1283.4 1001.6,1294.4" fill="none" stroke="#555" stroke-width="1" stroke-linejoin="round"/>
<polyline points="942.7,1381 930.5,1386.6 917.5,1390" fill="none" stroke="#555" stroke-width="1" stroke-linejoin="round"/>
<polyline points="837.8,1296.4 837.3,1309.4 838.7,1320.7 840.4,1323.3" fill="none" stroke="#555" stroke-width="1" stroke-linejoin="round"/>
<polyline points="885.1,1164.2 885.1,1172.5 882.9,1181.2 879.4,1190.7" fill="none" stroke="#555" stroke-width="1" stroke-linejoin="round"/>
<polyline points="862.2,1063 867.7,1072 872.9,1080.7 874.7,1090.7" fill="none" stroke="#555" stroke-width="1" stroke-linejoin="round"/>
<polyline points="980,1271 982,1268.5 985,1268.5 987,1271" fill="none" stroke="#555" stroke-width="0.7" stroke-linejoin="round"/>
<polyline points="1029,946.5 1032,947 1032.5,949.5 1030,951" fill="none" stroke="#555" stroke-width="0.9" stroke-linejoin="round"/>
<circle cx="878" cy="1275.6" r="1.3" fill="#FECE65" stroke="#555" stroke-width="0.5"/>
<circle cx="889.8" cy="1269.6" r="1.3" fill="#FECE65" stroke="#555" stroke-width="0.5"/>
<circle cx="984.2" cy="1194.2" r="1.3" fill="#FECE65" stroke="#555" stroke-width="0.5"/>
<circle cx="979.4" cy="1201.1" r="1.3" fill="#FECE65" stroke="#555" stroke-width="0.5"/>
<circle cx="1042.8" cy="1203.4" r="1.3" fill="#FECE65" stroke="#555" stroke-width="0.5"/>
<circle cx="1024.1" cy="1212.4" r="1.3" fill="#FECE65" stroke="#555" stroke-width="0.5"/>
<circle cx="1002.4" cy="1224.2" r="1.3" fill="#FECE65" stroke="#555" stroke-width="0.5"/>
<circle cx="1009.4" cy="1228.9" r="1.3" fill="#FECE65" stroke="#555" stroke-width="0.5"/>
<circle cx="982.2" cy="1250.2" r="1.3" fill="#FECE65" stroke="#555" stroke-width="0.5"/>
<circle cx="935.7" cy="1251.4" r="1.3" fill="#FECE65" stroke="#555" stroke-width="0.5"/>
<circle cx="995.5" cy="1263.2" r="1.3" fill="#FECE65" stroke="#555" stroke-width="0.5"/>
<circle cx="966.6" cy="1273.4" r="1.3" fill="#FECE65" stroke="#555" stroke-width="0.5"/>
<circle cx="914.1" cy="1276.5" r="1.3" fill="#FECE65" stroke="#555" stroke-width="0.5"/>
<circle cx="916.1" cy="1280" r="1.3" fill="#FECE65" stroke="#555" stroke-width="0.5"/>
<circle cx="912.8" cy="1283.8" r="1.3" fill="#FECE65" stroke="#555" stroke-width="0.5"/>
<circle cx="923.6" cy="1377.9" r="1.3" fill="#FECE65" stroke="#555" stroke-width="0.5"/>
<circle cx="928.4" cy="1377.4" r="1.3" fill="#FECE65" stroke="#555" stroke-width="0.5"/>
<circle cx="1012" cy="938.7" r="1.3" fill="#FECE65" stroke="#555" stroke-width="0.5"/>
<circle cx="934.5" cy="1067.1" r="1.3" fill="#FECE65" stroke="#555" stroke-width="0.5"/>
<circle cx="982.5" cy="1183.8" r="0.8" fill="#555"/>
<circle cx="1029" cy="1184.3" r="0.8" fill="#555"/>
<circle cx="969.5" cy="1197.7" r="0.8" fill="#555"/>
<circle cx="989.1" cy="1199.4" r="0.8" fill="#555"/>
<circle cx="1007.6" cy="1209.3" r="0.8" fill="#555"/>
<circle cx="983.7" cy="1212.7" r="0.8" fill="#555"/>
<circle cx="958.6" cy="1215.5" r="0.8" fill="#555"/>
<circle cx="964.3" cy="1219.3" r="0.8" fill="#555"/>
<circle cx="973.8" cy="1214.5" r="0.8" fill="#555"/>
<circle cx="996.4" cy="1216.7" r="0.8" fill="#555"/>
<circle cx="1013.7" cy="1219.3" r="0.8" fill="#555"/>
<circle cx="982.5" cy="1222.8" r="0.8" fill="#555"/>
<circle cx="983.4" cy="1228.9" r="0.8" fill="#555"/>
<circle cx="1024.1" cy="1227.6" r="0.8" fill="#555"/>
<circle cx="1041.1" cy="1212.7" r="0.8" fill="#555"/>
<circle cx="1042.8" cy="1219.8" r="0.8" fill="#555"/>
<circle cx="1052.7" cy="1201.1" r="0.8" fill="#555"/>
<circle cx="1050.1" cy="1195.4" r="0.8" fill="#555"/>
<circle cx="1040.6" cy="1194.7" r="0.8" fill="#555"/>
<circle cx="934.9" cy="1233.7" r="0.8" fill="#555"/>
<circle cx="971.8" cy="1237.9" r="0.8" fill="#555"/>
<circle cx="999.8" cy="1237.5" r="0.8" fill="#555"/>
<circle cx="1011.6" cy="1239.8" r="0.8" fill="#555"/>
<circle cx="1022.7" cy="1242.7" r="0.8" fill="#555"/>
<circle cx="1029" cy="1245.7" r="0.8" fill="#555"/>
<circle cx="1019.3" cy="1250.2" r="0.8" fill="#555"/>
<circle cx="960" cy="1247" r="0.8" fill="#555"/>
<circle cx="966.9" cy="1251.4" r="0.8" fill="#555"/>
<circle cx="972.6" cy="1253.5" r="0.8" fill="#555"/>
<circle cx="928.4" cy="1250.5" r="0.8" fill="#555"/>
<circle cx="942.3" cy="1249.7" r="0.8" fill="#555"/>
<circle cx="915.8" cy="1255.7" r="0.8" fill="#555"/>
<circle cx="910.6" cy="1259.2" r="0.8" fill="#555"/>
<circle cx="944.4" cy="1261.8" r="0.8" fill="#555"/>
<circle cx="952.2" cy="1267.9" r="0.8" fill="#555"/>
<circle cx="922.4" cy="1270.8" r="0.8" fill="#555"/>
<circle cx="942.7" cy="1276.5" r="0.8" fill="#555"/>
<circle cx="888.9" cy="1277.4" r="0.8" fill="#555"/>
<circle cx="987.7" cy="1273.9" r="0.8" fill="#555"/>
<circle cx="982.9" cy="1283.4" r="0.8" fill="#555"/>
<circle cx="989.8" cy="1286" r="0.8" fill="#555"/>
<circle cx="986.8" cy="1293" r="0.8" fill="#555"/>
<circle cx="963.1" cy="1282.6" r="0.8" fill="#555"/>
<circle cx="963.1" cy="1288.6" r="0.8" fill="#555"/>
<circle cx="958.6" cy="1299.4" r="0.8" fill="#555"/>
<circle cx="950.5" cy="1315.9" r="0.8" fill="#555"/>
<circle cx="935.4" cy="1325" r="0.8" fill="#555"/>
<circle cx="934" cy="1331.1" r="0.8" fill="#555"/>
<circle cx="931.4" cy="1333.4" r="0.8" fill="#555"/>
<circle cx="936.1" cy="1336.3" r="0.8" fill="#555"/>
<circle cx="937.5" cy="1339.8" r="0.8" fill="#555"/>
<circle cx="936.6" cy="1347.1" r="0.8" fill="#555"/>
<circle cx="943.5" cy="1348.8" r="0.8" fill="#555"/>
<circle cx="1001.6" cy="1260.1" r="0.8" fill="#555"/>
<circle cx="911" cy="1040.8" r="0.8" fill="#555"/>
<circle cx="928.4" cy="1044.3" r="0.8" fill="#555"/>
<circle cx="928" cy="1048.6" r="0.8" fill="#555"/>
<circle cx="914.5" cy="1056.4" r="0.8" fill="#555"/>
<circle cx="916.3" cy="1062.5" r="0.8" fill="#555"/>
<circle cx="923.2" cy="1059.9" r="0.8" fill="#555"/>
<circle cx="935.3" cy="1055.5" r="0.8" fill="#555"/>
<circle cx="937.9" cy="1059" r="0.8" fill="#555"/>
<circle cx="932.7" cy="1061.2" r="0.8" fill="#555"/>
<circle cx="918" cy="1066.8" r="0.8" fill="#555"/>
<circle cx="928" cy="1075.8" r="0.8" fill="#555"/>
<circle cx="984.7" cy="1063.7" r="0.8" fill="#555"/>
<circle cx="973.4" cy="1067.1" r="0.8" fill="#555"/>
<circle cx="978.6" cy="1066.8" r="0.8" fill="#555"/>
<circle cx="988.2" cy="1067.7" r="0.8" fill="#555"/>
<circle cx="967" cy="1072.9" r="0.8" fill="#555"/>
<circle cx="979.5" cy="1078.6" r="0.8" fill="#555"/>
<circle cx="964.8" cy="1081.9" r="0.8" fill="#555"/>
<circle cx="1028.9" cy="1060.2" r="0.8" fill="#555"/>
<circle cx="1051.8" cy="1089.8" r="0.8" fill="#555"/>
<circle cx="999.1" cy="1120.5" r="0.8" fill="#555"/>
<circle cx="946" cy="978.8" r="0.8" fill="#555"/>
<circle cx="964" cy="986.5" r="0.8" fill="#555"/>
<circle cx="858" cy="940" r="0.8" fill="#555"/>
<circle cx="1180.5" cy="820" r="0.8" fill="#555"/>
<circle cx="1184.8" cy="814.7" r="0.8" fill="#555"/>
<circle cx="1204.5" cy="814.7" r="0.8" fill="#555"/>
<circle cx="1149" cy="822.7" r="0.8" fill="#555"/>
<circle cx="1150" cy="826.4" r="0.8" fill="#555"/>
<circle cx="1135.7" cy="899" r="0.8" fill="#555"/>
<circle cx="1137.3" cy="914.4" r="0.8" fill="#555"/>
<circle cx="1110.7" cy="907" r="0.8" fill="#555"/>
<circle cx="1091.5" cy="881" r="0.8" fill="#555"/>
<circle cx="1089.5" cy="884.5" r="0.8" fill="#555"/>
<circle cx="1146" cy="703" r="0.8" fill="#555"/>
<circle cx="1150" cy="706" r="0.8" fill="#555"/>
<circle cx="1153" cy="710" r="0.8" fill="#555"/>
<circle cx="1156" cy="713" r="0.8" fill="#555"/>
<circle cx="1149" cy="712" r="0.8" fill="#555"/>
<circle cx="1152" cy="716" r="0.8" fill="#555"/>
<circle cx="1147" cy="716" r="0.8" fill="#555"/>
<circle cx="1155" cy="706" r="0.8" fill="#555"/>
<circle cx="1156" cy="692" r="0.8" fill="#555"/>
<circle cx="1164" cy="692" r="0.8" fill="#555"/>
<circle cx="1144" cy="720" r="0.8" fill="#555"/>
<circle cx="1141" cy="724" r="0.8" fill="#555"/>
<circle cx="1100" cy="796" r="0.8" fill="#555"/>
<circle cx="1104" cy="800" r="0.8" fill="#555"/>
<circle cx="1097" cy="803" r="0.8" fill="#555"/>
<circle cx="1107" cy="806" r="0.8" fill="#555"/>
<circle cx="1094" cy="812" r="0.8" fill="#555"/>
<circle cx="1091" cy="818" r="0.8" fill="#555"/>
<circle cx="1087" cy="824" r="0.8" fill="#555"/>
<circle cx="1110" cy="792" r="0.8" fill="#555"/>
<circle cx="1113" cy="788" r="0.8" fill="#555"/>
<circle cx="1084" cy="830" r="0.8" fill="#555"/>
<circle cx="1078" cy="838" r="0.8" fill="#555"/>
<circle cx="1070" cy="846" r="0.8" fill="#555"/>
<circle cx="1093" cy="875" r="1.3" fill="#555"/>
<rect x="31" y="31" width="1438" height="1438" fill="none" stroke="#000" stroke-width="2"/>
<text class="t" x="62" y="132.6" font-size="65.3">O-CTS4598</text>
<text class="s" x="69.5" y="856" font-size="41.5" textLength="172" lengthAdjust="spacing">相对占比</text>
<rect x="72" y="881" width="42" height="42.3" fill="#FFFFE5"/>
<text class="t" x="125" y="914.5" font-size="32.4" textLength="226" lengthAdjust="spacingAndGlyphs">0.76% - 2.14%</text>
<rect x="72" y="923" width="42" height="42.3" fill="#FFFACA"/>
<text class="t" x="125" y="956.5" font-size="32.4" textLength="226" lengthAdjust="spacingAndGlyphs">2.14% - 4.13%</text>
<rect x="72" y="965" width="42" height="42.3" fill="#FFF0AE"/>
<text class="t" x="125" y="998.5" font-size="32.4" textLength="226" lengthAdjust="spacingAndGlyphs">4.13% - 5.69%</text>
<rect x="72" y="1007" width="42" height="42.3" fill="#FEE391"/>
<text class="t" x="125" y="1040.5" font-size="32.4" textLength="226" lengthAdjust="spacingAndGlyphs">5.69% - 7.27%</text>
<rect x="72" y="1049" width="42" height="42.3" fill="#FECE65"/>
<text class="t" x="125" y="1082.5" font-size="32.4" textLength="226" lengthAdjust="spacingAndGlyphs">7.27% - 8.96%</text>
<rect x="72" y="1091" width="42" height="42.3" fill="#FEB642"/>
<text class="t" x="125" y="1124.5" font-size="32.4" textLength="245" lengthAdjust="spacingAndGlyphs">8.96% - 10.06%</text>
<rect x="72" y="1133" width="42" height="42.3" fill="#FE9929"/>
<text class="t" x="125" y="1166.5" font-size="32.4" textLength="262" lengthAdjust="spacingAndGlyphs">10.06% - 10.87%</text>
<rect x="72" y="1175" width="42" height="42.3" fill="#F27E1B"/>
<text class="t" x="125" y="1208.5" font-size="32.4" textLength="262" lengthAdjust="spacingAndGlyphs">10.87% - 11.71%</text>
<rect x="72" y="1217" width="42" height="42.3" fill="#E1640E"/>
<text class="t" x="125" y="1250.5" font-size="32.4" textLength="262" lengthAdjust="spacingAndGlyphs">11.71% - 12.57%</text>
<rect x="72" y="1259" width="42" height="42.3" fill="#CC4C02"/>
<text class="t" x="125" y="1292.5" font-size="32.4" textLength="262" lengthAdjust="spacingAndGlyphs">12.57% - 13.44%</text>
<rect x="72" y="1301" width="42" height="42.3" fill="#AA3C03"/>
<text class="t" x="125" y="1334.5" font-size="32.4" textLength="262" lengthAdjust="spacingAndGlyphs">13.44% - 14.73%</text>
<rect x="72" y="1343" width="42" height="42.3" fill="#882F05"/>
<text class="t" x="125" y="1376.5" font-size="32.4" textLength="262" lengthAdjust="spacingAndGlyphs">14.73% - 16.67%</text>
<rect x="72" y="1385" width="42" height="42.3" fill="#662506"/>
<text class="t" x="125" y="1418.5" font-size="32.4" textLength="262" lengthAdjust="spacingAndGlyphs">16.67% - 20.00%</text>
<text x="1181" y="1422" font-size="34.8" textLength="250.5" lengthAdjust="spacing"><tspan class="s">作者</tspan><tspan class="t">:O1a</tspan><tspan class="s">溯源群</tspan></text>
</svg></body></html>
